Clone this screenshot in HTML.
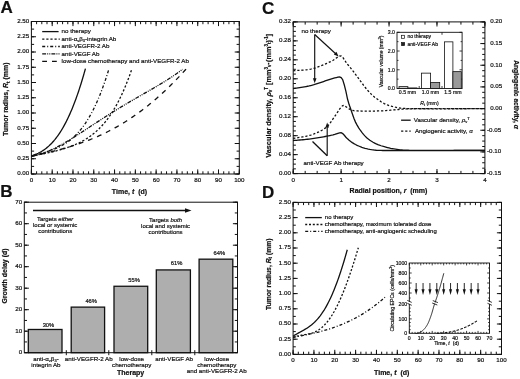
<!DOCTYPE html>
<html><head><meta charset="utf-8"><style>
html,body{margin:0;padding:0;background:#fff;}
svg{display:block;will-change:transform;filter:blur(0.2px);}
text{font-family:"Liberation Sans",sans-serif;fill:#111;stroke:#111;stroke-width:0.2px;}
</style></head><body>
<svg width="520" height="379" viewBox="0 0 520 379" stroke="#111" stroke-linecap="butt">
<g stroke="#111">
<text x="0.40" y="13.40" font-size="17" text-anchor="start" font-weight="bold">A</text>
<rect x="31.40" y="21.50" width="207.90" height="152.50" fill="none" stroke-width="1"/>
<line x1="31.40" y1="174.00" x2="31.40" y2="171.30" stroke-width="1"/>
<line x1="31.40" y1="21.50" x2="31.40" y2="24.20" stroke-width="1"/>
<line x1="36.60" y1="174.00" x2="36.60" y2="171.30" stroke-width="1"/>
<line x1="36.60" y1="21.50" x2="36.60" y2="24.20" stroke-width="1"/>
<line x1="41.80" y1="174.00" x2="41.80" y2="171.30" stroke-width="1"/>
<line x1="41.80" y1="21.50" x2="41.80" y2="24.20" stroke-width="1"/>
<line x1="46.99" y1="174.00" x2="46.99" y2="171.30" stroke-width="1"/>
<line x1="46.99" y1="21.50" x2="46.99" y2="24.20" stroke-width="1"/>
<line x1="52.19" y1="174.00" x2="52.19" y2="171.30" stroke-width="1"/>
<line x1="52.19" y1="21.50" x2="52.19" y2="24.20" stroke-width="1"/>
<line x1="57.39" y1="174.00" x2="57.39" y2="171.30" stroke-width="1"/>
<line x1="57.39" y1="21.50" x2="57.39" y2="24.20" stroke-width="1"/>
<line x1="62.58" y1="174.00" x2="62.58" y2="171.30" stroke-width="1"/>
<line x1="62.58" y1="21.50" x2="62.58" y2="24.20" stroke-width="1"/>
<line x1="67.78" y1="174.00" x2="67.78" y2="171.30" stroke-width="1"/>
<line x1="67.78" y1="21.50" x2="67.78" y2="24.20" stroke-width="1"/>
<line x1="72.98" y1="174.00" x2="72.98" y2="171.30" stroke-width="1"/>
<line x1="72.98" y1="21.50" x2="72.98" y2="24.20" stroke-width="1"/>
<line x1="78.18" y1="174.00" x2="78.18" y2="171.30" stroke-width="1"/>
<line x1="78.18" y1="21.50" x2="78.18" y2="24.20" stroke-width="1"/>
<line x1="83.38" y1="174.00" x2="83.38" y2="171.30" stroke-width="1"/>
<line x1="83.38" y1="21.50" x2="83.38" y2="24.20" stroke-width="1"/>
<line x1="88.57" y1="174.00" x2="88.57" y2="171.30" stroke-width="1"/>
<line x1="88.57" y1="21.50" x2="88.57" y2="24.20" stroke-width="1"/>
<line x1="93.77" y1="174.00" x2="93.77" y2="171.30" stroke-width="1"/>
<line x1="93.77" y1="21.50" x2="93.77" y2="24.20" stroke-width="1"/>
<line x1="98.97" y1="174.00" x2="98.97" y2="171.30" stroke-width="1"/>
<line x1="98.97" y1="21.50" x2="98.97" y2="24.20" stroke-width="1"/>
<line x1="104.16" y1="174.00" x2="104.16" y2="171.30" stroke-width="1"/>
<line x1="104.16" y1="21.50" x2="104.16" y2="24.20" stroke-width="1"/>
<line x1="109.36" y1="174.00" x2="109.36" y2="171.30" stroke-width="1"/>
<line x1="109.36" y1="21.50" x2="109.36" y2="24.20" stroke-width="1"/>
<line x1="114.56" y1="174.00" x2="114.56" y2="171.30" stroke-width="1"/>
<line x1="114.56" y1="21.50" x2="114.56" y2="24.20" stroke-width="1"/>
<line x1="119.76" y1="174.00" x2="119.76" y2="171.30" stroke-width="1"/>
<line x1="119.76" y1="21.50" x2="119.76" y2="24.20" stroke-width="1"/>
<line x1="124.96" y1="174.00" x2="124.96" y2="171.30" stroke-width="1"/>
<line x1="124.96" y1="21.50" x2="124.96" y2="24.20" stroke-width="1"/>
<line x1="130.15" y1="174.00" x2="130.15" y2="171.30" stroke-width="1"/>
<line x1="130.15" y1="21.50" x2="130.15" y2="24.20" stroke-width="1"/>
<line x1="135.35" y1="174.00" x2="135.35" y2="171.30" stroke-width="1"/>
<line x1="135.35" y1="21.50" x2="135.35" y2="24.20" stroke-width="1"/>
<line x1="140.55" y1="174.00" x2="140.55" y2="171.30" stroke-width="1"/>
<line x1="140.55" y1="21.50" x2="140.55" y2="24.20" stroke-width="1"/>
<line x1="145.75" y1="174.00" x2="145.75" y2="171.30" stroke-width="1"/>
<line x1="145.75" y1="21.50" x2="145.75" y2="24.20" stroke-width="1"/>
<line x1="150.94" y1="174.00" x2="150.94" y2="171.30" stroke-width="1"/>
<line x1="150.94" y1="21.50" x2="150.94" y2="24.20" stroke-width="1"/>
<line x1="156.14" y1="174.00" x2="156.14" y2="171.30" stroke-width="1"/>
<line x1="156.14" y1="21.50" x2="156.14" y2="24.20" stroke-width="1"/>
<line x1="161.34" y1="174.00" x2="161.34" y2="171.30" stroke-width="1"/>
<line x1="161.34" y1="21.50" x2="161.34" y2="24.20" stroke-width="1"/>
<line x1="166.54" y1="174.00" x2="166.54" y2="171.30" stroke-width="1"/>
<line x1="166.54" y1="21.50" x2="166.54" y2="24.20" stroke-width="1"/>
<line x1="171.73" y1="174.00" x2="171.73" y2="171.30" stroke-width="1"/>
<line x1="171.73" y1="21.50" x2="171.73" y2="24.20" stroke-width="1"/>
<line x1="176.93" y1="174.00" x2="176.93" y2="171.30" stroke-width="1"/>
<line x1="176.93" y1="21.50" x2="176.93" y2="24.20" stroke-width="1"/>
<line x1="182.13" y1="174.00" x2="182.13" y2="171.30" stroke-width="1"/>
<line x1="182.13" y1="21.50" x2="182.13" y2="24.20" stroke-width="1"/>
<line x1="187.33" y1="174.00" x2="187.33" y2="171.30" stroke-width="1"/>
<line x1="187.33" y1="21.50" x2="187.33" y2="24.20" stroke-width="1"/>
<line x1="192.52" y1="174.00" x2="192.52" y2="171.30" stroke-width="1"/>
<line x1="192.52" y1="21.50" x2="192.52" y2="24.20" stroke-width="1"/>
<line x1="197.72" y1="174.00" x2="197.72" y2="171.30" stroke-width="1"/>
<line x1="197.72" y1="21.50" x2="197.72" y2="24.20" stroke-width="1"/>
<line x1="202.92" y1="174.00" x2="202.92" y2="171.30" stroke-width="1"/>
<line x1="202.92" y1="21.50" x2="202.92" y2="24.20" stroke-width="1"/>
<line x1="208.12" y1="174.00" x2="208.12" y2="171.30" stroke-width="1"/>
<line x1="208.12" y1="21.50" x2="208.12" y2="24.20" stroke-width="1"/>
<line x1="213.31" y1="174.00" x2="213.31" y2="171.30" stroke-width="1"/>
<line x1="213.31" y1="21.50" x2="213.31" y2="24.20" stroke-width="1"/>
<line x1="218.51" y1="174.00" x2="218.51" y2="171.30" stroke-width="1"/>
<line x1="218.51" y1="21.50" x2="218.51" y2="24.20" stroke-width="1"/>
<line x1="223.71" y1="174.00" x2="223.71" y2="171.30" stroke-width="1"/>
<line x1="223.71" y1="21.50" x2="223.71" y2="24.20" stroke-width="1"/>
<line x1="228.91" y1="174.00" x2="228.91" y2="171.30" stroke-width="1"/>
<line x1="228.91" y1="21.50" x2="228.91" y2="24.20" stroke-width="1"/>
<line x1="234.10" y1="174.00" x2="234.10" y2="171.30" stroke-width="1"/>
<line x1="234.10" y1="21.50" x2="234.10" y2="24.20" stroke-width="1"/>
<line x1="239.30" y1="174.00" x2="239.30" y2="171.30" stroke-width="1"/>
<line x1="239.30" y1="21.50" x2="239.30" y2="24.20" stroke-width="1"/>
<line x1="31.40" y1="174.00" x2="31.40" y2="169.40" stroke-width="1"/>
<line x1="31.40" y1="21.50" x2="31.40" y2="26.10" stroke-width="1"/>
<line x1="52.19" y1="174.00" x2="52.19" y2="169.40" stroke-width="1"/>
<line x1="52.19" y1="21.50" x2="52.19" y2="26.10" stroke-width="1"/>
<line x1="72.98" y1="174.00" x2="72.98" y2="169.40" stroke-width="1"/>
<line x1="72.98" y1="21.50" x2="72.98" y2="26.10" stroke-width="1"/>
<line x1="93.77" y1="174.00" x2="93.77" y2="169.40" stroke-width="1"/>
<line x1="93.77" y1="21.50" x2="93.77" y2="26.10" stroke-width="1"/>
<line x1="114.56" y1="174.00" x2="114.56" y2="169.40" stroke-width="1"/>
<line x1="114.56" y1="21.50" x2="114.56" y2="26.10" stroke-width="1"/>
<line x1="135.35" y1="174.00" x2="135.35" y2="169.40" stroke-width="1"/>
<line x1="135.35" y1="21.50" x2="135.35" y2="26.10" stroke-width="1"/>
<line x1="156.14" y1="174.00" x2="156.14" y2="169.40" stroke-width="1"/>
<line x1="156.14" y1="21.50" x2="156.14" y2="26.10" stroke-width="1"/>
<line x1="176.93" y1="174.00" x2="176.93" y2="169.40" stroke-width="1"/>
<line x1="176.93" y1="21.50" x2="176.93" y2="26.10" stroke-width="1"/>
<line x1="197.72" y1="174.00" x2="197.72" y2="169.40" stroke-width="1"/>
<line x1="197.72" y1="21.50" x2="197.72" y2="26.10" stroke-width="1"/>
<line x1="218.51" y1="174.00" x2="218.51" y2="169.40" stroke-width="1"/>
<line x1="218.51" y1="21.50" x2="218.51" y2="26.10" stroke-width="1"/>
<line x1="239.30" y1="174.00" x2="239.30" y2="169.40" stroke-width="1"/>
<line x1="239.30" y1="21.50" x2="239.30" y2="26.10" stroke-width="1"/>
<line x1="31.40" y1="174.00" x2="34.10" y2="174.00" stroke-width="1"/>
<line x1="239.30" y1="174.00" x2="236.60" y2="174.00" stroke-width="1"/>
<line x1="31.40" y1="166.38" x2="34.10" y2="166.38" stroke-width="1"/>
<line x1="239.30" y1="166.38" x2="236.60" y2="166.38" stroke-width="1"/>
<line x1="31.40" y1="158.75" x2="34.10" y2="158.75" stroke-width="1"/>
<line x1="239.30" y1="158.75" x2="236.60" y2="158.75" stroke-width="1"/>
<line x1="31.40" y1="151.12" x2="34.10" y2="151.12" stroke-width="1"/>
<line x1="239.30" y1="151.12" x2="236.60" y2="151.12" stroke-width="1"/>
<line x1="31.40" y1="143.50" x2="34.10" y2="143.50" stroke-width="1"/>
<line x1="239.30" y1="143.50" x2="236.60" y2="143.50" stroke-width="1"/>
<line x1="31.40" y1="135.88" x2="34.10" y2="135.88" stroke-width="1"/>
<line x1="239.30" y1="135.88" x2="236.60" y2="135.88" stroke-width="1"/>
<line x1="31.40" y1="128.25" x2="34.10" y2="128.25" stroke-width="1"/>
<line x1="239.30" y1="128.25" x2="236.60" y2="128.25" stroke-width="1"/>
<line x1="31.40" y1="120.62" x2="34.10" y2="120.62" stroke-width="1"/>
<line x1="239.30" y1="120.62" x2="236.60" y2="120.62" stroke-width="1"/>
<line x1="31.40" y1="113.00" x2="34.10" y2="113.00" stroke-width="1"/>
<line x1="239.30" y1="113.00" x2="236.60" y2="113.00" stroke-width="1"/>
<line x1="31.40" y1="105.38" x2="34.10" y2="105.38" stroke-width="1"/>
<line x1="239.30" y1="105.38" x2="236.60" y2="105.38" stroke-width="1"/>
<line x1="31.40" y1="97.75" x2="34.10" y2="97.75" stroke-width="1"/>
<line x1="239.30" y1="97.75" x2="236.60" y2="97.75" stroke-width="1"/>
<line x1="31.40" y1="90.12" x2="34.10" y2="90.12" stroke-width="1"/>
<line x1="239.30" y1="90.12" x2="236.60" y2="90.12" stroke-width="1"/>
<line x1="31.40" y1="82.50" x2="34.10" y2="82.50" stroke-width="1"/>
<line x1="239.30" y1="82.50" x2="236.60" y2="82.50" stroke-width="1"/>
<line x1="31.40" y1="74.88" x2="34.10" y2="74.88" stroke-width="1"/>
<line x1="239.30" y1="74.88" x2="236.60" y2="74.88" stroke-width="1"/>
<line x1="31.40" y1="67.25" x2="34.10" y2="67.25" stroke-width="1"/>
<line x1="239.30" y1="67.25" x2="236.60" y2="67.25" stroke-width="1"/>
<line x1="31.40" y1="59.62" x2="34.10" y2="59.62" stroke-width="1"/>
<line x1="239.30" y1="59.62" x2="236.60" y2="59.62" stroke-width="1"/>
<line x1="31.40" y1="52.00" x2="34.10" y2="52.00" stroke-width="1"/>
<line x1="239.30" y1="52.00" x2="236.60" y2="52.00" stroke-width="1"/>
<line x1="31.40" y1="44.38" x2="34.10" y2="44.38" stroke-width="1"/>
<line x1="239.30" y1="44.38" x2="236.60" y2="44.38" stroke-width="1"/>
<line x1="31.40" y1="36.75" x2="34.10" y2="36.75" stroke-width="1"/>
<line x1="239.30" y1="36.75" x2="236.60" y2="36.75" stroke-width="1"/>
<line x1="31.40" y1="29.12" x2="34.10" y2="29.12" stroke-width="1"/>
<line x1="239.30" y1="29.12" x2="236.60" y2="29.12" stroke-width="1"/>
<line x1="31.40" y1="21.50" x2="34.10" y2="21.50" stroke-width="1"/>
<line x1="239.30" y1="21.50" x2="236.60" y2="21.50" stroke-width="1"/>
<line x1="31.40" y1="174.00" x2="36.00" y2="174.00" stroke-width="1"/>
<line x1="239.30" y1="174.00" x2="234.70" y2="174.00" stroke-width="1"/>
<line x1="31.40" y1="158.75" x2="36.00" y2="158.75" stroke-width="1"/>
<line x1="239.30" y1="158.75" x2="234.70" y2="158.75" stroke-width="1"/>
<line x1="31.40" y1="143.50" x2="36.00" y2="143.50" stroke-width="1"/>
<line x1="239.30" y1="143.50" x2="234.70" y2="143.50" stroke-width="1"/>
<line x1="31.40" y1="128.25" x2="36.00" y2="128.25" stroke-width="1"/>
<line x1="239.30" y1="128.25" x2="234.70" y2="128.25" stroke-width="1"/>
<line x1="31.40" y1="113.00" x2="36.00" y2="113.00" stroke-width="1"/>
<line x1="239.30" y1="113.00" x2="234.70" y2="113.00" stroke-width="1"/>
<line x1="31.40" y1="97.75" x2="36.00" y2="97.75" stroke-width="1"/>
<line x1="239.30" y1="97.75" x2="234.70" y2="97.75" stroke-width="1"/>
<line x1="31.40" y1="82.50" x2="36.00" y2="82.50" stroke-width="1"/>
<line x1="239.30" y1="82.50" x2="234.70" y2="82.50" stroke-width="1"/>
<line x1="31.40" y1="67.25" x2="36.00" y2="67.25" stroke-width="1"/>
<line x1="239.30" y1="67.25" x2="234.70" y2="67.25" stroke-width="1"/>
<line x1="31.40" y1="52.00" x2="36.00" y2="52.00" stroke-width="1"/>
<line x1="239.30" y1="52.00" x2="234.70" y2="52.00" stroke-width="1"/>
<line x1="31.40" y1="36.75" x2="36.00" y2="36.75" stroke-width="1"/>
<line x1="239.30" y1="36.75" x2="234.70" y2="36.75" stroke-width="1"/>
<line x1="31.40" y1="21.50" x2="36.00" y2="21.50" stroke-width="1"/>
<line x1="239.30" y1="21.50" x2="234.70" y2="21.50" stroke-width="1"/>
<text x="31.40" y="182.00" font-size="6.2" text-anchor="middle">0</text>
<text x="52.19" y="182.00" font-size="6.2" text-anchor="middle">10</text>
<text x="72.98" y="182.00" font-size="6.2" text-anchor="middle">20</text>
<text x="93.77" y="182.00" font-size="6.2" text-anchor="middle">30</text>
<text x="114.56" y="182.00" font-size="6.2" text-anchor="middle">40</text>
<text x="135.35" y="182.00" font-size="6.2" text-anchor="middle">50</text>
<text x="156.14" y="182.00" font-size="6.2" text-anchor="middle">60</text>
<text x="176.93" y="182.00" font-size="6.2" text-anchor="middle">70</text>
<text x="197.72" y="182.00" font-size="6.2" text-anchor="middle">80</text>
<text x="218.51" y="182.00" font-size="6.2" text-anchor="middle">90</text>
<text x="239.30" y="182.00" font-size="6.2" text-anchor="middle">100</text>
<text x="29.20" y="175.40" font-size="6.2" text-anchor="end">0.00</text>
<text x="29.20" y="160.15" font-size="6.2" text-anchor="end">0.25</text>
<text x="29.20" y="144.90" font-size="6.2" text-anchor="end">0.50</text>
<text x="29.20" y="129.65" font-size="6.2" text-anchor="end">0.75</text>
<text x="29.20" y="114.40" font-size="6.2" text-anchor="end">1.00</text>
<text x="29.20" y="99.15" font-size="6.2" text-anchor="end">1.25</text>
<text x="29.20" y="83.90" font-size="6.2" text-anchor="end">1.50</text>
<text x="29.20" y="68.65" font-size="6.2" text-anchor="end">1.75</text>
<text x="29.20" y="53.40" font-size="6.2" text-anchor="end">2.00</text>
<text x="29.20" y="38.15" font-size="6.2" text-anchor="end">2.25</text>
<text x="29.20" y="22.90" font-size="6.2" text-anchor="end">2.50</text>
<text x="129.50" y="194.00" font-size="7" text-anchor="middle" font-weight="bold">Time, <tspan font-style="italic">t</tspan>&#160; (d)</text>
<text x="8.30" y="99.20" font-size="7" text-anchor="middle" font-weight="bold" transform="rotate(-90 8.3 99.2)">Tumor radius, <tspan font-style="italic">R</tspan><tspan font-size="4.5" dy="1.5">t</tspan><tspan dy="-1.5"> (mm)</tspan></text>
<path d="M42.20 31.60 L58.60 31.60" fill="none" stroke-width="1.3"/>
<text x="61.60" y="33.20" font-size="6.2" text-anchor="start">no therapy</text>
<path d="M42.20 39.05 L59.80 39.05" fill="none" stroke-width="1.3" stroke-dasharray="2.2 1.9"/>
<text x="61.60" y="40.65" font-size="6.2" text-anchor="start">anti-&#945;<tspan font-size="4" dy="1">v</tspan><tspan dy="-1">&#946;</tspan><tspan font-size="4" dy="1">3</tspan><tspan dy="-1">-integrin Ab</tspan></text>
<path d="M42.20 46.50 L59.80 46.50" fill="none" stroke-width="1.3" stroke-dasharray="3 2 1 2"/>
<text x="61.60" y="48.10" font-size="6.2" text-anchor="start">anti-VEGFR-2 Ab</text>
<path d="M42.20 53.95 L59.80 53.95" fill="none" stroke-width="1.3" stroke-dasharray="3.9 1.1 1.0 1.1 1.0 1.1"/>
<text x="61.60" y="55.55" font-size="6.2" text-anchor="start">anti-VEGF Ab</text>
<path d="M42.20 61.40 L59.80 61.40" fill="none" stroke-width="1.3" stroke-dasharray="4.8 5"/>
<text x="61.60" y="63.00" font-size="6.2" text-anchor="start">low-dose chemotherapy and anti-VEGFR-2 Ab</text>
<path d="M31.40 155.80 L32.08 155.60 L32.75 155.39 L33.43 155.16 L34.10 154.93 L34.78 154.68 L35.45 154.42 L36.13 154.15 L36.81 153.87 L37.48 153.56 L38.16 153.25 L38.83 152.92 L39.51 152.58 L40.18 152.21 L40.86 151.84 L41.54 151.44 L42.21 151.03 L42.89 150.60 L43.56 150.16 L44.24 149.69 L44.91 149.21 L45.59 148.70 L46.26 148.18 L46.94 147.63 L47.62 147.07 L48.29 146.48 L48.97 145.88 L49.64 145.25 L50.32 144.59 L50.99 143.92 L51.67 143.22 L52.35 142.50 L53.02 141.75 L53.70 140.98 L54.37 140.18 L55.05 139.36 L55.72 138.51 L56.40 137.63 L57.08 136.73 L57.75 135.80 L58.43 134.84 L59.10 133.86 L59.78 132.84 L60.45 131.80 L61.13 130.73 L61.81 129.62 L62.48 128.49 L63.16 127.32 L63.83 126.13 L64.51 124.90 L65.18 123.64 L65.86 122.34 L66.54 121.01 L67.21 119.65 L67.89 118.26 L68.56 116.83 L69.24 115.36 L69.91 113.86 L70.59 112.33 L71.26 110.76 L71.94 109.15 L72.62 107.50 L73.29 105.82 L73.97 104.09 L74.64 102.33 L75.32 100.53 L75.99 98.69 L76.67 96.82 L77.35 94.90 L78.02 92.94 L78.70 90.93 L79.37 88.89 L80.05 86.81 L80.72 84.68 L81.40 82.51 L82.08 80.29 L82.75 78.03 L83.43 75.73 L84.10 73.38 L84.78 70.99 L85.45 68.55" fill="none" stroke-width="1.3"/>
<path d="M31.40 156.23 L32.37 155.95 L33.33 155.67 L34.30 155.39 L35.27 155.12 L36.23 154.85 L37.20 154.57 L38.17 154.30 L39.13 154.03 L40.10 153.76 L41.07 153.48 L42.03 153.20 L43.00 152.92 L43.97 152.64 L44.93 152.34 L45.90 152.05 L46.87 151.75 L47.83 151.44 L48.80 151.12 L49.77 150.79 L50.73 150.45 L51.70 150.10 L52.67 149.75 L53.63 149.37 L54.60 148.99 L55.57 148.59 L56.54 148.17 L57.50 147.74 L58.47 147.29 L59.44 146.82 L60.40 146.33 L61.37 145.83 L62.34 145.30 L63.30 144.74 L64.27 144.17 L65.24 143.57 L66.20 142.94 L67.17 142.29 L68.14 141.60 L69.10 140.89 L70.07 140.15 L71.04 139.38 L72.00 138.57 L72.97 137.73 L73.94 136.85 L74.90 135.93 L75.87 134.98 L76.84 133.99 L77.80 132.96 L78.77 131.88 L79.74 130.76 L80.70 129.60 L81.67 128.39 L82.64 127.13 L83.60 125.83 L84.57 124.47 L85.54 123.06 L86.50 121.60 L87.47 120.08 L88.44 118.50 L89.40 116.87 L90.37 115.18 L91.34 113.43 L92.30 111.61 L93.27 109.73 L94.24 107.79 L95.20 105.77 L96.17 103.69 L97.14 101.54 L98.10 99.31 L99.07 97.01 L100.04 94.64 L101.00 92.18 L101.97 89.65 L102.94 87.04 L103.91 84.34 L104.87 81.56 L105.84 78.69 L106.81 75.74 L107.77 72.69 L108.74 69.55" fill="none" stroke-width="1.3" stroke-dasharray="3 2 1 2"/>
<path d="M31.40 155.85 L32.65 155.68 L33.91 155.51 L35.16 155.32 L36.41 155.12 L37.66 154.91 L38.92 154.69 L40.17 154.46 L41.42 154.23 L42.67 153.99 L43.93 153.74 L45.18 153.48 L46.43 153.21 L47.68 152.94 L48.94 152.66 L50.19 152.37 L51.44 152.07 L52.69 151.77 L53.95 151.46 L55.20 151.14 L56.45 150.82 L57.70 150.48 L58.96 150.14 L60.21 149.79 L61.46 149.42 L62.71 149.05 L63.97 148.66 L65.22 148.26 L66.47 147.85 L67.73 147.43 L68.98 146.99 L70.23 146.54 L71.48 146.07 L72.74 145.58 L73.99 145.07 L75.24 144.55 L76.49 144.00 L77.75 143.43 L79.00 142.84 L80.25 142.22 L81.50 141.57 L82.76 140.90 L84.01 140.20 L85.26 139.46 L86.51 138.69 L87.77 137.89 L89.02 137.05 L90.27 136.17 L91.52 135.26 L92.78 134.29 L94.03 133.29 L95.28 132.24 L96.54 131.13 L97.79 129.98 L99.04 128.78 L100.29 127.51 L101.55 126.19 L102.80 124.81 L104.05 123.37 L105.30 121.86 L106.56 120.28 L107.81 118.63 L109.06 116.91 L110.31 115.10 L111.57 113.22 L112.82 111.26 L114.07 109.21 L115.32 107.08 L116.58 104.85 L117.83 102.52 L119.08 100.10 L120.33 97.58 L121.59 94.95 L122.84 92.21 L124.09 89.36 L125.34 86.40 L126.60 83.32 L127.85 80.11 L129.10 76.78 L130.36 73.32 L131.61 69.72" fill="none" stroke-width="1.3" stroke-dasharray="2.2 1.9"/>
<path d="M31.40 156.18 L33.29 155.88 L35.18 155.50 L37.07 155.06 L38.96 154.55 L40.85 153.98 L42.74 153.35 L44.63 152.67 L46.51 151.93 L48.40 151.15 L50.29 150.32 L52.18 149.44 L54.07 148.53 L55.96 147.58 L57.85 146.60 L59.74 145.58 L61.63 144.53 L63.52 143.46 L65.41 142.37 L67.30 141.25 L69.19 140.11 L71.08 138.95 L72.96 137.78 L74.85 136.59 L76.74 135.39 L78.63 134.18 L80.52 132.96 L82.41 131.74 L84.30 130.51 L86.19 129.27 L88.08 128.04 L89.97 126.80 L91.86 125.56 L93.75 124.32 L95.64 123.09 L97.53 121.85 L99.41 120.63 L101.30 119.40 L103.19 118.18 L105.08 116.97 L106.97 115.77 L108.86 114.57 L110.75 113.38 L112.64 112.19 L114.53 111.02 L116.42 109.85 L118.31 108.69 L120.20 107.54 L122.09 106.40 L123.98 105.26 L125.86 104.14 L127.75 103.02 L129.64 101.91 L131.53 100.80 L133.42 99.70 L135.31 98.61 L137.20 97.51 L139.09 96.43 L140.98 95.34 L142.87 94.26 L144.76 93.18 L146.65 92.10 L148.54 91.01 L150.43 89.92 L152.31 88.83 L154.20 87.74 L156.09 86.63 L157.98 85.51 L159.87 84.39 L161.76 83.25 L163.65 82.10 L165.54 80.93 L167.43 79.74 L169.32 78.53 L171.21 77.30 L173.10 76.04 L174.99 74.75 L176.88 73.44 L178.76 72.09 L180.65 70.70 L182.54 69.28" fill="none" stroke-width="1.3" stroke-dasharray="3.9 1.1 1.0 1.1 1.0 1.1"/>
<path d="M31.40 156.21 L33.34 155.78 L35.28 155.36 L37.22 154.93 L39.17 154.49 L41.11 154.06 L43.05 153.62 L44.99 153.17 L46.93 152.72 L48.87 152.26 L50.81 151.79 L52.75 151.32 L54.70 150.83 L56.64 150.34 L58.58 149.83 L60.52 149.32 L62.46 148.79 L64.40 148.25 L66.34 147.69 L68.28 147.12 L70.23 146.54 L72.17 145.94 L74.11 145.33 L76.05 144.70 L77.99 144.06 L79.93 143.39 L81.87 142.71 L83.81 142.01 L85.76 141.29 L87.70 140.56 L89.64 139.80 L91.58 139.02 L93.52 138.22 L95.46 137.40 L97.40 136.55 L99.34 135.69 L101.29 134.80 L103.23 133.89 L105.17 132.95 L107.11 131.99 L109.05 131.01 L110.99 130.00 L112.93 128.96 L114.87 127.90 L116.82 126.82 L118.76 125.71 L120.70 124.57 L122.64 123.40 L124.58 122.21 L126.52 120.99 L128.46 119.74 L130.40 118.46 L132.35 117.15 L134.29 115.82 L136.23 114.46 L138.17 113.07 L140.11 111.64 L142.05 110.19 L143.99 108.71 L145.93 107.20 L147.88 105.66 L149.82 104.09 L151.76 102.49 L153.70 100.86 L155.64 99.20 L157.58 97.50 L159.52 95.78 L161.46 94.03 L163.41 92.24 L165.35 90.42 L167.29 88.58 L169.23 86.70 L171.17 84.79 L173.11 82.84 L175.05 80.87 L176.99 78.87 L178.94 76.83 L180.88 74.77 L182.82 72.67 L184.76 70.54 L186.70 68.38" fill="none" stroke-width="1.3" stroke-dasharray="4.8 5"/>
<text x="0.30" y="196.80" font-size="17" text-anchor="start" font-weight="bold">B</text>
<rect x="24.30" y="202.20" width="213.20" height="150.50" fill="none" stroke-width="1"/>
<line x1="24.30" y1="352.70" x2="27.00" y2="352.70" stroke-width="1"/>
<line x1="237.50" y1="352.70" x2="234.80" y2="352.70" stroke-width="1"/>
<line x1="24.30" y1="341.95" x2="27.00" y2="341.95" stroke-width="1"/>
<line x1="237.50" y1="341.95" x2="234.80" y2="341.95" stroke-width="1"/>
<line x1="24.30" y1="331.20" x2="27.00" y2="331.20" stroke-width="1"/>
<line x1="237.50" y1="331.20" x2="234.80" y2="331.20" stroke-width="1"/>
<line x1="24.30" y1="320.45" x2="27.00" y2="320.45" stroke-width="1"/>
<line x1="237.50" y1="320.45" x2="234.80" y2="320.45" stroke-width="1"/>
<line x1="24.30" y1="309.70" x2="27.00" y2="309.70" stroke-width="1"/>
<line x1="237.50" y1="309.70" x2="234.80" y2="309.70" stroke-width="1"/>
<line x1="24.30" y1="298.95" x2="27.00" y2="298.95" stroke-width="1"/>
<line x1="237.50" y1="298.95" x2="234.80" y2="298.95" stroke-width="1"/>
<line x1="24.30" y1="288.20" x2="27.00" y2="288.20" stroke-width="1"/>
<line x1="237.50" y1="288.20" x2="234.80" y2="288.20" stroke-width="1"/>
<line x1="24.30" y1="277.45" x2="27.00" y2="277.45" stroke-width="1"/>
<line x1="237.50" y1="277.45" x2="234.80" y2="277.45" stroke-width="1"/>
<line x1="24.30" y1="266.70" x2="27.00" y2="266.70" stroke-width="1"/>
<line x1="237.50" y1="266.70" x2="234.80" y2="266.70" stroke-width="1"/>
<line x1="24.30" y1="255.95" x2="27.00" y2="255.95" stroke-width="1"/>
<line x1="237.50" y1="255.95" x2="234.80" y2="255.95" stroke-width="1"/>
<line x1="24.30" y1="245.20" x2="27.00" y2="245.20" stroke-width="1"/>
<line x1="237.50" y1="245.20" x2="234.80" y2="245.20" stroke-width="1"/>
<line x1="24.30" y1="234.45" x2="27.00" y2="234.45" stroke-width="1"/>
<line x1="237.50" y1="234.45" x2="234.80" y2="234.45" stroke-width="1"/>
<line x1="24.30" y1="223.70" x2="27.00" y2="223.70" stroke-width="1"/>
<line x1="237.50" y1="223.70" x2="234.80" y2="223.70" stroke-width="1"/>
<line x1="24.30" y1="212.95" x2="27.00" y2="212.95" stroke-width="1"/>
<line x1="237.50" y1="212.95" x2="234.80" y2="212.95" stroke-width="1"/>
<line x1="24.30" y1="202.20" x2="27.00" y2="202.20" stroke-width="1"/>
<line x1="237.50" y1="202.20" x2="234.80" y2="202.20" stroke-width="1"/>
<line x1="24.30" y1="352.70" x2="28.90" y2="352.70" stroke-width="1"/>
<line x1="237.50" y1="352.70" x2="232.90" y2="352.70" stroke-width="1"/>
<line x1="24.30" y1="331.20" x2="28.90" y2="331.20" stroke-width="1"/>
<line x1="237.50" y1="331.20" x2="232.90" y2="331.20" stroke-width="1"/>
<line x1="24.30" y1="309.70" x2="28.90" y2="309.70" stroke-width="1"/>
<line x1="237.50" y1="309.70" x2="232.90" y2="309.70" stroke-width="1"/>
<line x1="24.30" y1="288.20" x2="28.90" y2="288.20" stroke-width="1"/>
<line x1="237.50" y1="288.20" x2="232.90" y2="288.20" stroke-width="1"/>
<line x1="24.30" y1="266.70" x2="28.90" y2="266.70" stroke-width="1"/>
<line x1="237.50" y1="266.70" x2="232.90" y2="266.70" stroke-width="1"/>
<line x1="24.30" y1="245.20" x2="28.90" y2="245.20" stroke-width="1"/>
<line x1="237.50" y1="245.20" x2="232.90" y2="245.20" stroke-width="1"/>
<line x1="24.30" y1="223.70" x2="28.90" y2="223.70" stroke-width="1"/>
<line x1="237.50" y1="223.70" x2="232.90" y2="223.70" stroke-width="1"/>
<line x1="24.30" y1="202.20" x2="28.90" y2="202.20" stroke-width="1"/>
<line x1="237.50" y1="202.20" x2="232.90" y2="202.20" stroke-width="1"/>
<text x="22.20" y="354.10" font-size="6.2" text-anchor="end">0</text>
<text x="22.20" y="332.60" font-size="6.2" text-anchor="end">10</text>
<text x="22.20" y="311.10" font-size="6.2" text-anchor="end">20</text>
<text x="22.20" y="289.60" font-size="6.2" text-anchor="end">30</text>
<text x="22.20" y="268.10" font-size="6.2" text-anchor="end">40</text>
<text x="22.20" y="246.60" font-size="6.2" text-anchor="end">50</text>
<text x="22.20" y="225.10" font-size="6.2" text-anchor="end">60</text>
<text x="22.20" y="203.60" font-size="6.2" text-anchor="end">70</text>
<text x="7.00" y="276.00" font-size="7" text-anchor="middle" font-weight="bold" transform="rotate(-90 7 276)">Growth delay (d)</text>
<rect x="28.30" y="329.48" width="33.70" height="23.22" fill="#aeaeae" stroke-width="1.3"/>
<text x="48.45" y="327.00" font-size="5.8" text-anchor="middle">30%</text>
<text x="45.95" y="360.70" font-size="6.2" text-anchor="middle">anti-&#945;<tspan font-size="4" dy="1">v</tspan><tspan dy="-1">&#946;</tspan><tspan font-size="4" dy="1">3</tspan><tspan dy="-1">-</tspan></text>
<text x="45.95" y="366.60" font-size="6.2" text-anchor="middle">integrin Ab</text>
<rect x="71.20" y="307.12" width="33.40" height="45.58" fill="#aeaeae" stroke-width="1.3"/>
<text x="91.20" y="302.70" font-size="5.8" text-anchor="middle">46%</text>
<text x="88.70" y="360.70" font-size="6.2" text-anchor="middle">anti-VEGFR-2 Ab</text>
<rect x="114.00" y="286.26" width="33.70" height="66.44" fill="#aeaeae" stroke-width="1.3"/>
<text x="134.15" y="282.40" font-size="5.8" text-anchor="middle">55%</text>
<text x="131.65" y="360.70" font-size="6.2" text-anchor="middle">low-dose</text>
<text x="131.65" y="366.60" font-size="6.2" text-anchor="middle">chemotherapy</text>
<rect x="156.30" y="269.92" width="34.10" height="82.78" fill="#aeaeae" stroke-width="1.3"/>
<text x="176.65" y="264.60" font-size="5.8" text-anchor="middle">61%</text>
<text x="174.15" y="360.70" font-size="6.2" text-anchor="middle">anti-VEGF Ab</text>
<rect x="199.10" y="259.17" width="33.70" height="93.53" fill="#aeaeae" stroke-width="1.3"/>
<text x="219.25" y="254.80" font-size="5.8" text-anchor="middle">64%</text>
<text x="216.75" y="360.70" font-size="6.2" text-anchor="middle">low-dose</text>
<text x="216.75" y="366.60" font-size="6.2" text-anchor="middle">chemotherapy</text>
<text x="216.75" y="372.50" font-size="6.2" text-anchor="middle">and anti-VEGFR-2 Ab</text>
<line x1="66.30" y1="350.20" x2="66.30" y2="355.20" stroke-width="1"/>
<line x1="108.80" y1="350.20" x2="108.80" y2="355.20" stroke-width="1"/>
<line x1="151.80" y1="350.20" x2="151.80" y2="355.20" stroke-width="1"/>
<line x1="194.80" y1="350.20" x2="194.80" y2="355.20" stroke-width="1"/>
<text x="130.60" y="374.60" font-size="7" text-anchor="middle" font-weight="bold">Therapy</text>
<line x1="33.00" y1="210.50" x2="186.00" y2="210.50" stroke-width="1.3"/>
<path d="M185 208.3 L191.5 210.5 L185 212.7 Z" stroke="none" fill="#111"/>
<text x="55.20" y="220.70" font-size="6" text-anchor="middle">Targets <tspan font-style="italic">either</tspan></text>
<text x="55.20" y="226.70" font-size="6" text-anchor="middle">local or systemic</text>
<text x="55.20" y="232.70" font-size="6" text-anchor="middle">contributions</text>
<text x="165.60" y="221.80" font-size="6" text-anchor="middle">Targets <tspan font-style="italic">both</tspan></text>
<text x="165.60" y="227.80" font-size="6" text-anchor="middle">local and systemic</text>
<text x="165.60" y="233.80" font-size="6" text-anchor="middle">contributions</text>
<text x="262.00" y="13.80" font-size="17" text-anchor="start" font-weight="bold">C</text>
<rect x="293.20" y="21.90" width="191.70" height="151.70" fill="none" stroke-width="1"/>
<line x1="293.20" y1="173.60" x2="293.20" y2="170.90" stroke-width="1"/>
<line x1="293.20" y1="21.90" x2="293.20" y2="24.60" stroke-width="1"/>
<line x1="305.18" y1="173.60" x2="305.18" y2="170.90" stroke-width="1"/>
<line x1="305.18" y1="21.90" x2="305.18" y2="24.60" stroke-width="1"/>
<line x1="317.16" y1="173.60" x2="317.16" y2="170.90" stroke-width="1"/>
<line x1="317.16" y1="21.90" x2="317.16" y2="24.60" stroke-width="1"/>
<line x1="329.14" y1="173.60" x2="329.14" y2="170.90" stroke-width="1"/>
<line x1="329.14" y1="21.90" x2="329.14" y2="24.60" stroke-width="1"/>
<line x1="341.12" y1="173.60" x2="341.12" y2="170.90" stroke-width="1"/>
<line x1="341.12" y1="21.90" x2="341.12" y2="24.60" stroke-width="1"/>
<line x1="353.11" y1="173.60" x2="353.11" y2="170.90" stroke-width="1"/>
<line x1="353.11" y1="21.90" x2="353.11" y2="24.60" stroke-width="1"/>
<line x1="365.09" y1="173.60" x2="365.09" y2="170.90" stroke-width="1"/>
<line x1="365.09" y1="21.90" x2="365.09" y2="24.60" stroke-width="1"/>
<line x1="377.07" y1="173.60" x2="377.07" y2="170.90" stroke-width="1"/>
<line x1="377.07" y1="21.90" x2="377.07" y2="24.60" stroke-width="1"/>
<line x1="389.05" y1="173.60" x2="389.05" y2="170.90" stroke-width="1"/>
<line x1="389.05" y1="21.90" x2="389.05" y2="24.60" stroke-width="1"/>
<line x1="401.03" y1="173.60" x2="401.03" y2="170.90" stroke-width="1"/>
<line x1="401.03" y1="21.90" x2="401.03" y2="24.60" stroke-width="1"/>
<line x1="413.01" y1="173.60" x2="413.01" y2="170.90" stroke-width="1"/>
<line x1="413.01" y1="21.90" x2="413.01" y2="24.60" stroke-width="1"/>
<line x1="424.99" y1="173.60" x2="424.99" y2="170.90" stroke-width="1"/>
<line x1="424.99" y1="21.90" x2="424.99" y2="24.60" stroke-width="1"/>
<line x1="436.97" y1="173.60" x2="436.97" y2="170.90" stroke-width="1"/>
<line x1="436.97" y1="21.90" x2="436.97" y2="24.60" stroke-width="1"/>
<line x1="448.96" y1="173.60" x2="448.96" y2="170.90" stroke-width="1"/>
<line x1="448.96" y1="21.90" x2="448.96" y2="24.60" stroke-width="1"/>
<line x1="460.94" y1="173.60" x2="460.94" y2="170.90" stroke-width="1"/>
<line x1="460.94" y1="21.90" x2="460.94" y2="24.60" stroke-width="1"/>
<line x1="472.92" y1="173.60" x2="472.92" y2="170.90" stroke-width="1"/>
<line x1="472.92" y1="21.90" x2="472.92" y2="24.60" stroke-width="1"/>
<line x1="484.90" y1="173.60" x2="484.90" y2="170.90" stroke-width="1"/>
<line x1="484.90" y1="21.90" x2="484.90" y2="24.60" stroke-width="1"/>
<line x1="293.20" y1="173.60" x2="293.20" y2="169.00" stroke-width="1"/>
<line x1="293.20" y1="21.90" x2="293.20" y2="26.50" stroke-width="1"/>
<line x1="341.12" y1="173.60" x2="341.12" y2="169.00" stroke-width="1"/>
<line x1="341.12" y1="21.90" x2="341.12" y2="26.50" stroke-width="1"/>
<line x1="389.05" y1="173.60" x2="389.05" y2="169.00" stroke-width="1"/>
<line x1="389.05" y1="21.90" x2="389.05" y2="26.50" stroke-width="1"/>
<line x1="436.97" y1="173.60" x2="436.97" y2="169.00" stroke-width="1"/>
<line x1="436.97" y1="21.90" x2="436.97" y2="26.50" stroke-width="1"/>
<line x1="484.90" y1="173.60" x2="484.90" y2="169.00" stroke-width="1"/>
<line x1="484.90" y1="21.90" x2="484.90" y2="26.50" stroke-width="1"/>
<line x1="293.20" y1="173.60" x2="295.90" y2="173.60" stroke-width="1"/>
<line x1="293.20" y1="168.86" x2="295.90" y2="168.86" stroke-width="1"/>
<line x1="293.20" y1="164.12" x2="295.90" y2="164.12" stroke-width="1"/>
<line x1="293.20" y1="159.38" x2="295.90" y2="159.38" stroke-width="1"/>
<line x1="293.20" y1="154.64" x2="295.90" y2="154.64" stroke-width="1"/>
<line x1="293.20" y1="149.90" x2="295.90" y2="149.90" stroke-width="1"/>
<line x1="293.20" y1="145.16" x2="295.90" y2="145.16" stroke-width="1"/>
<line x1="293.20" y1="140.42" x2="295.90" y2="140.42" stroke-width="1"/>
<line x1="293.20" y1="135.68" x2="295.90" y2="135.68" stroke-width="1"/>
<line x1="293.20" y1="130.93" x2="295.90" y2="130.93" stroke-width="1"/>
<line x1="293.20" y1="126.19" x2="295.90" y2="126.19" stroke-width="1"/>
<line x1="293.20" y1="121.45" x2="295.90" y2="121.45" stroke-width="1"/>
<line x1="293.20" y1="116.71" x2="295.90" y2="116.71" stroke-width="1"/>
<line x1="293.20" y1="111.97" x2="295.90" y2="111.97" stroke-width="1"/>
<line x1="293.20" y1="107.23" x2="295.90" y2="107.23" stroke-width="1"/>
<line x1="293.20" y1="102.49" x2="295.90" y2="102.49" stroke-width="1"/>
<line x1="293.20" y1="97.75" x2="295.90" y2="97.75" stroke-width="1"/>
<line x1="293.20" y1="93.01" x2="295.90" y2="93.01" stroke-width="1"/>
<line x1="293.20" y1="88.27" x2="295.90" y2="88.27" stroke-width="1"/>
<line x1="293.20" y1="83.53" x2="295.90" y2="83.53" stroke-width="1"/>
<line x1="293.20" y1="78.79" x2="295.90" y2="78.79" stroke-width="1"/>
<line x1="293.20" y1="74.05" x2="295.90" y2="74.05" stroke-width="1"/>
<line x1="293.20" y1="69.31" x2="295.90" y2="69.31" stroke-width="1"/>
<line x1="293.20" y1="64.57" x2="295.90" y2="64.57" stroke-width="1"/>
<line x1="293.20" y1="59.83" x2="295.90" y2="59.83" stroke-width="1"/>
<line x1="293.20" y1="55.08" x2="295.90" y2="55.08" stroke-width="1"/>
<line x1="293.20" y1="50.34" x2="295.90" y2="50.34" stroke-width="1"/>
<line x1="293.20" y1="45.60" x2="295.90" y2="45.60" stroke-width="1"/>
<line x1="293.20" y1="40.86" x2="295.90" y2="40.86" stroke-width="1"/>
<line x1="293.20" y1="36.12" x2="295.90" y2="36.12" stroke-width="1"/>
<line x1="293.20" y1="31.38" x2="295.90" y2="31.38" stroke-width="1"/>
<line x1="293.20" y1="26.64" x2="295.90" y2="26.64" stroke-width="1"/>
<line x1="293.20" y1="21.90" x2="295.90" y2="21.90" stroke-width="1"/>
<line x1="293.20" y1="173.60" x2="297.80" y2="173.60" stroke-width="1"/>
<line x1="293.20" y1="154.64" x2="297.80" y2="154.64" stroke-width="1"/>
<line x1="293.20" y1="135.68" x2="297.80" y2="135.68" stroke-width="1"/>
<line x1="293.20" y1="116.71" x2="297.80" y2="116.71" stroke-width="1"/>
<line x1="293.20" y1="97.75" x2="297.80" y2="97.75" stroke-width="1"/>
<line x1="293.20" y1="78.79" x2="297.80" y2="78.79" stroke-width="1"/>
<line x1="293.20" y1="59.83" x2="297.80" y2="59.83" stroke-width="1"/>
<line x1="293.20" y1="40.86" x2="297.80" y2="40.86" stroke-width="1"/>
<line x1="293.20" y1="21.90" x2="297.80" y2="21.90" stroke-width="1"/>
<line x1="484.90" y1="173.60" x2="482.20" y2="173.60" stroke-width="1"/>
<line x1="484.90" y1="168.18" x2="482.20" y2="168.18" stroke-width="1"/>
<line x1="484.90" y1="162.76" x2="482.20" y2="162.76" stroke-width="1"/>
<line x1="484.90" y1="157.35" x2="482.20" y2="157.35" stroke-width="1"/>
<line x1="484.90" y1="151.93" x2="482.20" y2="151.93" stroke-width="1"/>
<line x1="484.90" y1="146.51" x2="482.20" y2="146.51" stroke-width="1"/>
<line x1="484.90" y1="141.09" x2="482.20" y2="141.09" stroke-width="1"/>
<line x1="484.90" y1="135.67" x2="482.20" y2="135.67" stroke-width="1"/>
<line x1="484.90" y1="130.26" x2="482.20" y2="130.26" stroke-width="1"/>
<line x1="484.90" y1="124.84" x2="482.20" y2="124.84" stroke-width="1"/>
<line x1="484.90" y1="119.42" x2="482.20" y2="119.42" stroke-width="1"/>
<line x1="484.90" y1="114.00" x2="482.20" y2="114.00" stroke-width="1"/>
<line x1="484.90" y1="108.59" x2="482.20" y2="108.59" stroke-width="1"/>
<line x1="484.90" y1="103.17" x2="482.20" y2="103.17" stroke-width="1"/>
<line x1="484.90" y1="97.75" x2="482.20" y2="97.75" stroke-width="1"/>
<line x1="484.90" y1="92.33" x2="482.20" y2="92.33" stroke-width="1"/>
<line x1="484.90" y1="86.91" x2="482.20" y2="86.91" stroke-width="1"/>
<line x1="484.90" y1="81.50" x2="482.20" y2="81.50" stroke-width="1"/>
<line x1="484.90" y1="76.08" x2="482.20" y2="76.08" stroke-width="1"/>
<line x1="484.90" y1="70.66" x2="482.20" y2="70.66" stroke-width="1"/>
<line x1="484.90" y1="65.24" x2="482.20" y2="65.24" stroke-width="1"/>
<line x1="484.90" y1="59.82" x2="482.20" y2="59.82" stroke-width="1"/>
<line x1="484.90" y1="54.41" x2="482.20" y2="54.41" stroke-width="1"/>
<line x1="484.90" y1="48.99" x2="482.20" y2="48.99" stroke-width="1"/>
<line x1="484.90" y1="43.57" x2="482.20" y2="43.57" stroke-width="1"/>
<line x1="484.90" y1="38.15" x2="482.20" y2="38.15" stroke-width="1"/>
<line x1="484.90" y1="32.74" x2="482.20" y2="32.74" stroke-width="1"/>
<line x1="484.90" y1="27.32" x2="482.20" y2="27.32" stroke-width="1"/>
<line x1="484.90" y1="21.90" x2="482.20" y2="21.90" stroke-width="1"/>
<line x1="484.90" y1="173.60" x2="480.30" y2="173.60" stroke-width="1"/>
<line x1="484.90" y1="151.93" x2="480.30" y2="151.93" stroke-width="1"/>
<line x1="484.90" y1="130.26" x2="480.30" y2="130.26" stroke-width="1"/>
<line x1="484.90" y1="108.59" x2="480.30" y2="108.59" stroke-width="1"/>
<line x1="484.90" y1="86.91" x2="480.30" y2="86.91" stroke-width="1"/>
<line x1="484.90" y1="65.24" x2="480.30" y2="65.24" stroke-width="1"/>
<line x1="484.90" y1="43.57" x2="480.30" y2="43.57" stroke-width="1"/>
<line x1="484.90" y1="21.90" x2="480.30" y2="21.90" stroke-width="1"/>
<text x="293.20" y="181.50" font-size="6.2" text-anchor="middle">0</text>
<text x="341.12" y="181.50" font-size="6.2" text-anchor="middle">1</text>
<text x="389.05" y="181.50" font-size="6.2" text-anchor="middle">2</text>
<text x="436.97" y="181.50" font-size="6.2" text-anchor="middle">3</text>
<text x="484.90" y="181.50" font-size="6.2" text-anchor="middle">4</text>
<text x="291.00" y="175.00" font-size="6.2" text-anchor="end">0.00</text>
<text x="291.00" y="156.04" font-size="6.2" text-anchor="end">0.04</text>
<text x="291.00" y="137.08" font-size="6.2" text-anchor="end">0.08</text>
<text x="291.00" y="118.11" font-size="6.2" text-anchor="end">0.12</text>
<text x="291.00" y="99.15" font-size="6.2" text-anchor="end">0.16</text>
<text x="291.00" y="80.19" font-size="6.2" text-anchor="end">0.20</text>
<text x="291.00" y="61.23" font-size="6.2" text-anchor="end">0.24</text>
<text x="291.00" y="42.26" font-size="6.2" text-anchor="end">0.28</text>
<text x="291.00" y="23.30" font-size="6.2" text-anchor="end">0.32</text>
<text x="487.00" y="175.00" font-size="6.2" text-anchor="start">-0.15</text>
<text x="487.00" y="153.33" font-size="6.2" text-anchor="start">-0.10</text>
<text x="487.00" y="131.66" font-size="6.2" text-anchor="start">-0.05</text>
<text x="490.20" y="109.99" font-size="6.2" text-anchor="start">0.00</text>
<text x="490.20" y="88.31" font-size="6.2" text-anchor="start">0.05</text>
<text x="490.20" y="66.64" font-size="6.2" text-anchor="start">0.10</text>
<text x="490.20" y="44.97" font-size="6.2" text-anchor="start">0.15</text>
<text x="490.20" y="23.30" font-size="6.2" text-anchor="start">0.20</text>
<text x="388.50" y="193.30" font-size="7" text-anchor="middle" font-weight="bold">Radial position, <tspan font-style="italic">r</tspan>&#160; (mm)</text>
<text x="270.80" y="95.70" font-size="7.3" text-anchor="middle" font-weight="bold" transform="rotate(-90 270.8 95.7)">Vascular density, <tspan font-style="italic">&#961;</tspan><tspan font-size="4.5" dy="1.5">v</tspan><tspan font-size="4.5" dy="-4">T</tspan><tspan dy="2.5">  [mm</tspan><tspan font-size="4.5" dy="-2.5">3</tspan><tspan font-size="4.5" dy="3">v</tspan><tspan dy="-0.5">&#183;(mm</tspan><tspan font-size="4.5" dy="-2.5">3</tspan><tspan font-size="4.5" dy="3">t</tspan><tspan dy="-0.5">)</tspan><tspan font-size="4.5" dy="-2.5">-1</tspan><tspan dy="2.5">]</tspan></text>
<text x="513.60" y="94.50" font-size="6.7" text-anchor="middle" font-weight="bold" transform="rotate(90 513.6 94.5)">Angiogenic activity, <tspan font-style="italic">&#945;</tspan></text>
<path d="M293.20 88.70 L294.80 88.41 L296.39 88.14 L297.99 87.88 L299.59 87.63 L301.19 87.37 L302.78 87.11 L304.38 86.84 L305.98 86.55 L307.58 86.25 L309.18 85.92 L310.77 85.55 L312.37 85.16 L313.97 84.72 L315.56 84.24 L317.16 83.74 L318.76 83.21 L320.36 82.66 L321.95 82.09 L323.55 81.52 L325.15 80.95 L326.75 80.39 L328.34 79.84 L329.94 79.30 L331.54 78.79 L333.14 78.33 L334.74 77.92 L336.33 77.56 L337.93 77.20 L339.53 76.97 L341.12 77.58 L342.72 79.72 L344.32 84.98 L345.92 91.42 L347.51 99.04 L349.11 104.57 L350.71 109.01 L352.31 113.69 L353.90 118.26 L355.50 122.11 L357.10 125.10 L358.70 127.81 L360.29 130.25 L361.89 132.43 L363.49 134.39 L365.09 136.13 L366.68 137.67 L368.28 139.02 L369.88 140.22 L371.48 141.29 L373.07 142.25 L374.67 143.14 L376.27 143.93 L377.87 144.62 L379.46 145.22 L381.06 145.75 L382.66 146.23 L384.26 146.67 L385.85 147.10 L387.45 147.52 L389.05 147.91 L390.65 148.27 L392.25 148.59 L393.84 148.88 L395.44 149.14 L397.04 149.38 L398.63 149.59 L400.23 149.78 L401.83 149.92 L403.43 150.03 L405.02 150.11 L406.62 150.18 L408.22 150.24 L409.82 150.29 L411.41 150.34 L413.01 150.38 L414.61 150.39 L416.21 150.40 L417.80 150.40 L419.40 150.40 L421.00 150.40 L422.60 150.40 L424.19 150.40 L425.79 150.41 L427.39 150.41 L428.99 150.41 L430.59 150.41 L432.18 150.41 L433.78 150.41 L435.38 150.41 L436.98 150.41 L438.57 150.41 L440.17 150.41 L441.77 150.41 L443.37 150.41 L444.96 150.41 L446.56 150.41 L448.16 150.41 L449.75 150.41 L451.35 150.41 L452.95 150.41 L454.55 150.41 L456.14 150.41 L457.74 150.41 L459.34 150.41 L460.94 150.41 L462.53 150.41 L464.13 150.41 L465.73 150.41 L467.33 150.40 L468.92 150.40 L470.52 150.40 L472.12 150.40 L473.72 150.40 L475.31 150.40 L476.91 150.40 L478.51 150.40 L480.11 150.40 L481.70 150.40 L483.30 150.40 L484.90 150.40" fill="none" stroke-width="1.3"/>
<path d="M293.20 140.60 L294.80 140.45 L296.39 140.30 L297.99 140.16 L299.59 140.02 L301.19 139.88 L302.78 139.74 L304.38 139.59 L305.98 139.44 L307.58 139.27 L309.18 139.09 L310.77 138.89 L312.37 138.68 L313.97 138.44 L315.56 138.20 L317.16 137.94 L318.76 137.67 L320.36 137.40 L321.95 137.11 L323.55 136.81 L325.15 136.50 L326.75 136.19 L328.34 135.86 L329.94 135.53 L331.54 135.19 L333.14 134.79 L334.74 134.31 L336.33 133.79 L337.93 133.29 L339.53 132.84 L341.12 132.68 L342.72 133.57 L344.32 135.27 L345.92 137.21 L347.51 138.85 L349.11 140.30 L350.71 141.49 L352.31 142.60 L353.90 143.61 L355.50 144.50 L357.10 145.29 L358.70 146.03 L360.29 146.70 L361.89 147.31 L363.49 147.85 L365.09 148.32 L366.68 148.73 L368.28 149.09 L369.88 149.41 L371.48 149.68 L373.07 149.91 L374.67 150.11 L376.27 150.26 L377.87 150.37 L379.46 150.44 L381.06 150.47 L382.66 150.49 L384.26 150.50 L385.85 150.50 L387.45 150.51 L389.05 150.51 L390.65 150.52 L392.25 150.52 L393.84 150.53 L395.44 150.53 L397.04 150.53 L398.63 150.54 L400.23 150.54 L401.83 150.54 L403.43 150.54 L405.02 150.55 L406.62 150.55 L408.22 150.55 L409.82 150.55 L411.41 150.55 L413.01 150.55 L414.61 150.55 L416.21 150.55 L417.80 150.55 L419.40 150.55 L421.00 150.55 L422.60 150.55 L424.19 150.55 L425.79 150.55 L427.39 150.55 L428.99 150.55 L430.59 150.55 L432.18 150.55 L433.78 150.55 L435.38 150.54 L436.98 150.54 L438.57 150.54 L440.17 150.54 L441.77 150.54 L443.37 150.54 L444.96 150.53 L446.56 150.53 L448.16 150.53 L449.75 150.53 L451.35 150.53 L452.95 150.53 L454.55 150.52 L456.14 150.52 L457.74 150.52 L459.34 150.52 L460.94 150.52 L462.53 150.51 L464.13 150.51 L465.73 150.51 L467.33 150.51 L468.92 150.51 L470.52 150.51 L472.12 150.51 L473.72 150.50 L475.31 150.50 L476.91 150.50 L478.51 150.50 L480.11 150.50 L481.70 150.50 L483.30 150.50 L484.90 150.50" fill="none" stroke-width="1.3"/>
<path d="M293.20 70.80 L294.80 70.65 L296.39 70.53 L297.99 70.43 L299.59 70.33 L301.19 70.24 L302.78 70.14 L304.38 70.02 L305.98 69.86 L307.58 69.67 L309.18 69.43 L310.77 69.13 L312.37 68.76 L313.97 68.32 L315.56 67.84 L317.16 67.30 L318.76 66.73 L320.36 66.12 L321.95 65.47 L323.55 64.80 L325.15 64.10 L326.75 63.39 L328.34 62.66 L329.94 61.92 L331.54 61.18 L333.14 60.29 L334.74 59.20 L336.33 58.04 L337.93 56.95 L339.53 56.07 L341.12 56.03 L342.72 57.27 L344.32 59.64 L345.92 62.17 L347.51 64.27 L349.11 66.23 L350.71 68.14 L352.31 70.10 L353.90 72.17 L355.50 74.29 L357.10 76.44 L358.70 78.59 L360.29 80.77 L361.89 82.98 L363.49 85.16 L365.09 87.24 L366.68 89.19 L368.28 91.06 L369.88 92.80 L371.48 94.39 L373.07 95.81 L374.67 97.14 L376.27 98.38 L377.87 99.54 L379.46 100.64 L381.06 101.69 L382.66 102.67 L384.26 103.56 L385.85 104.34 L387.45 104.98 L389.05 105.52 L390.65 106.01 L392.25 106.46 L393.84 106.86 L395.44 107.22 L397.04 107.53 L398.63 107.80 L400.23 108.03 L401.83 108.22 L403.43 108.36 L405.02 108.47 L406.62 108.55 L408.22 108.61 L409.82 108.65 L411.41 108.67 L413.01 108.68 L414.61 108.70 L416.21 108.71 L417.80 108.72 L419.40 108.73 L421.00 108.74 L422.60 108.75 L424.19 108.76 L425.79 108.76 L427.39 108.77 L428.99 108.77 L430.59 108.78 L432.18 108.78 L433.78 108.78 L435.38 108.78 L436.98 108.79 L438.57 108.79 L440.17 108.78 L441.77 108.78 L443.37 108.78 L444.96 108.78 L446.56 108.78 L448.16 108.78 L449.75 108.77 L451.35 108.77 L452.95 108.77 L454.55 108.76 L456.14 108.76 L457.74 108.75 L459.34 108.75 L460.94 108.74 L462.53 108.74 L464.13 108.74 L465.73 108.73 L467.33 108.73 L468.92 108.72 L470.52 108.72 L472.12 108.72 L473.72 108.71 L475.31 108.71 L476.91 108.71 L478.51 108.70 L480.11 108.70 L481.70 108.70 L483.30 108.70 L484.90 108.70" fill="none" stroke-width="1.3" stroke-dasharray="2.2 1.9"/>
<path d="M293.20 138.50 L294.80 138.19 L296.39 137.91 L297.99 137.64 L299.59 137.39 L301.19 137.13 L302.78 136.87 L304.38 136.59 L305.98 136.27 L307.58 135.92 L309.18 135.52 L310.77 135.07 L312.37 134.54 L313.97 133.97 L315.56 133.35 L317.16 132.69 L318.76 131.95 L320.36 131.14 L321.95 130.24 L323.55 129.23 L325.15 128.11 L326.75 126.86 L328.34 125.28 L329.94 123.31 L331.54 121.07 L333.14 118.72 L334.74 116.39 L336.33 114.11 L337.93 111.64 L339.53 109.20 L341.12 107.05 L342.72 105.57 L344.32 105.47 L345.92 106.67 L347.51 107.81 L349.11 108.83 L350.71 109.76 L352.31 110.40 L353.90 110.73 L355.50 110.91 L357.10 110.97 L358.70 110.99 L360.29 111.01 L361.89 111.03 L363.49 111.05 L365.09 111.07 L366.68 111.08 L368.28 111.08 L369.88 111.08 L371.48 111.07 L373.07 111.06 L374.67 111.03 L376.27 111.00 L377.87 110.97 L379.46 110.92 L381.06 110.86 L382.66 110.78 L384.26 110.68 L385.85 110.56 L387.45 110.43 L389.05 110.30 L390.65 110.16 L392.25 110.02 L393.84 109.89 L395.44 109.77 L397.04 109.63 L398.63 109.48 L400.23 109.34 L401.83 109.20 L403.43 109.09 L405.02 109.00 L406.62 108.93 L408.22 108.88 L409.82 108.83 L411.41 108.80 L413.01 108.77 L414.61 108.74 L416.21 108.72 L417.80 108.71 L419.40 108.70 L421.00 108.70 L422.60 108.69 L424.19 108.69 L425.79 108.68 L427.39 108.68 L428.99 108.67 L430.59 108.67 L432.18 108.67 L433.78 108.67 L435.38 108.67 L436.98 108.67 L438.57 108.66 L440.17 108.66 L441.77 108.66 L443.37 108.66 L444.96 108.66 L446.56 108.67 L448.16 108.67 L449.75 108.67 L451.35 108.67 L452.95 108.67 L454.55 108.67 L456.14 108.67 L457.74 108.68 L459.34 108.68 L460.94 108.68 L462.53 108.68 L464.13 108.68 L465.73 108.69 L467.33 108.69 L468.92 108.69 L470.52 108.69 L472.12 108.69 L473.72 108.69 L475.31 108.70 L476.91 108.70 L478.51 108.70 L480.11 108.70 L481.70 108.70 L483.30 108.70 L484.90 108.70" fill="none" stroke-width="1.3" stroke-dasharray="2.2 1.9"/>
<text x="301.50" y="33.30" font-size="6.2" text-anchor="start">no therapy</text>
<line x1="314.70" y1="34.50" x2="314.70" y2="80.50" stroke-width="1.15"/>
<path d="M312.9 78.2 L314.7 83.2 L316.5 78.2 Z" stroke="none" fill="#111"/>
<line x1="314.70" y1="34.50" x2="336.50" y2="54.50" stroke-width="1.15"/>
<path d="M333.8 54.6 L338.6 56.6 L336.4 51.8 Z" stroke="none" fill="#111"/>
<text x="303.50" y="164.60" font-size="6.2" text-anchor="start">anti-VEGF Ab therapy</text>
<line x1="327.20" y1="155.80" x2="327.20" y2="125.50" stroke-width="1.15"/>
<path d="M325.4 127.6 L327.2 122.6 L329 127.6 Z" stroke="none" fill="#111"/>
<line x1="327.20" y1="155.80" x2="312.50" y2="141.50" stroke-width="1.3"/>
<path d="M401.10 120.20 L410.70 120.20" fill="none" stroke-width="1.3"/>
<text x="413.80" y="122.30" font-size="6.2" text-anchor="start">Vascular density, <tspan font-style="italic">&#961;</tspan><tspan font-size="4" dy="1">v</tspan><tspan font-size="4" dy="-3.5">T</tspan></text>
<path d="M401.10 131.20 L410.70 131.20" fill="none" stroke-width="1.3" stroke-dasharray="2.2 1.9"/>
<text x="414.90" y="133.30" font-size="6.2" text-anchor="start">Angiogenic activity, <tspan font-style="italic">&#945;</tspan></text>
<rect x="397.00" y="32.30" width="65.10" height="56.20" fill="none" stroke-width="0.9"/>
<line x1="397.00" y1="88.50" x2="399.60" y2="88.50" stroke-width="0.8"/>
<line x1="462.10" y1="88.50" x2="459.50" y2="88.50" stroke-width="0.8"/>
<line x1="397.00" y1="79.13" x2="398.50" y2="79.13" stroke-width="0.8"/>
<line x1="462.10" y1="79.13" x2="460.60" y2="79.13" stroke-width="0.8"/>
<line x1="397.00" y1="69.77" x2="399.60" y2="69.77" stroke-width="0.8"/>
<line x1="462.10" y1="69.77" x2="459.50" y2="69.77" stroke-width="0.8"/>
<line x1="397.00" y1="60.40" x2="398.50" y2="60.40" stroke-width="0.8"/>
<line x1="462.10" y1="60.40" x2="460.60" y2="60.40" stroke-width="0.8"/>
<line x1="397.00" y1="51.03" x2="399.60" y2="51.03" stroke-width="0.8"/>
<line x1="462.10" y1="51.03" x2="459.50" y2="51.03" stroke-width="0.8"/>
<line x1="397.00" y1="41.67" x2="398.50" y2="41.67" stroke-width="0.8"/>
<line x1="462.10" y1="41.67" x2="460.60" y2="41.67" stroke-width="0.8"/>
<line x1="397.00" y1="32.30" x2="399.60" y2="32.30" stroke-width="0.8"/>
<line x1="462.10" y1="32.30" x2="459.50" y2="32.30" stroke-width="0.8"/>
<text x="395.00" y="90.30" font-size="5.2" text-anchor="end">0.0</text>
<text x="395.00" y="71.57" font-size="5.2" text-anchor="end">1.0</text>
<text x="395.00" y="52.83" font-size="5.2" text-anchor="end">2.0</text>
<text x="395.00" y="34.10" font-size="5.2" text-anchor="end">3.0</text>
<line x1="419.20" y1="88.50" x2="419.20" y2="86.00" stroke-width="0.8"/>
<line x1="419.20" y1="32.30" x2="419.20" y2="34.80" stroke-width="0.8"/>
<line x1="442.00" y1="88.50" x2="442.00" y2="86.00" stroke-width="0.8"/>
<line x1="442.00" y1="32.30" x2="442.00" y2="34.80" stroke-width="0.8"/>
<rect x="399.00" y="86.63" width="8.90" height="1.87" fill="#ccc" stroke-width="0.8"/>
<rect x="407.90" y="87.94" width="9.10" height="0.56" fill="#999" stroke-width="0.8"/>
<rect x="421.40" y="73.14" width="9.20" height="15.36" fill="#fff" stroke-width="0.8"/>
<rect x="430.60" y="82.51" width="9.10" height="5.99" fill="#999" stroke-width="0.8"/>
<rect x="444.40" y="41.85" width="8.50" height="46.65" fill="#fff" stroke-width="0.8"/>
<rect x="452.90" y="71.64" width="8.40" height="16.86" fill="#999" stroke-width="0.8"/>
<text x="407.50" y="94.40" font-size="5.2" text-anchor="middle">0.5 mm</text>
<text x="430.50" y="94.40" font-size="5.2" text-anchor="middle">1.0 mm</text>
<text x="452.90" y="94.40" font-size="5.2" text-anchor="middle">1.5 mm</text>
<text x="429.50" y="105.00" font-size="5.2" text-anchor="middle"><tspan font-style="italic">R</tspan><tspan font-size="3.6" dy="1">t</tspan><tspan dy="-1">  (mm)</tspan></text>
<text x="383.30" y="61.30" font-size="5" text-anchor="middle" transform="rotate(-90 383.3 61.3)">Vascular volume (mm<tspan font-size="3.6" dy="-2">3</tspan><tspan dy="2">)</tspan></text>
<rect x="401.6" y="35.3" width="3" height="3" fill="#fff" stroke-width="0.7"/>
<text x="407.40" y="38.40" font-size="5" text-anchor="start">no therapy</text>
<rect x="401.6" y="42.6" width="3" height="3" fill="#222" stroke-width="0.7"/>
<text x="407.40" y="45.70" font-size="5" text-anchor="start">anti-VEGF Ab</text>
<text x="262.00" y="198.30" font-size="17" text-anchor="start" font-weight="bold">D</text>
<rect x="293.10" y="202.40" width="208.40" height="152.00" fill="none" stroke-width="1"/>
<line x1="293.10" y1="354.40" x2="293.10" y2="351.70" stroke-width="1"/>
<line x1="293.10" y1="202.40" x2="293.10" y2="205.10" stroke-width="1"/>
<line x1="298.31" y1="354.40" x2="298.31" y2="351.70" stroke-width="1"/>
<line x1="298.31" y1="202.40" x2="298.31" y2="205.10" stroke-width="1"/>
<line x1="303.52" y1="354.40" x2="303.52" y2="351.70" stroke-width="1"/>
<line x1="303.52" y1="202.40" x2="303.52" y2="205.10" stroke-width="1"/>
<line x1="308.73" y1="354.40" x2="308.73" y2="351.70" stroke-width="1"/>
<line x1="308.73" y1="202.40" x2="308.73" y2="205.10" stroke-width="1"/>
<line x1="313.94" y1="354.40" x2="313.94" y2="351.70" stroke-width="1"/>
<line x1="313.94" y1="202.40" x2="313.94" y2="205.10" stroke-width="1"/>
<line x1="319.15" y1="354.40" x2="319.15" y2="351.70" stroke-width="1"/>
<line x1="319.15" y1="202.40" x2="319.15" y2="205.10" stroke-width="1"/>
<line x1="324.36" y1="354.40" x2="324.36" y2="351.70" stroke-width="1"/>
<line x1="324.36" y1="202.40" x2="324.36" y2="205.10" stroke-width="1"/>
<line x1="329.57" y1="354.40" x2="329.57" y2="351.70" stroke-width="1"/>
<line x1="329.57" y1="202.40" x2="329.57" y2="205.10" stroke-width="1"/>
<line x1="334.78" y1="354.40" x2="334.78" y2="351.70" stroke-width="1"/>
<line x1="334.78" y1="202.40" x2="334.78" y2="205.10" stroke-width="1"/>
<line x1="339.99" y1="354.40" x2="339.99" y2="351.70" stroke-width="1"/>
<line x1="339.99" y1="202.40" x2="339.99" y2="205.10" stroke-width="1"/>
<line x1="345.20" y1="354.40" x2="345.20" y2="351.70" stroke-width="1"/>
<line x1="345.20" y1="202.40" x2="345.20" y2="205.10" stroke-width="1"/>
<line x1="350.41" y1="354.40" x2="350.41" y2="351.70" stroke-width="1"/>
<line x1="350.41" y1="202.40" x2="350.41" y2="205.10" stroke-width="1"/>
<line x1="355.62" y1="354.40" x2="355.62" y2="351.70" stroke-width="1"/>
<line x1="355.62" y1="202.40" x2="355.62" y2="205.10" stroke-width="1"/>
<line x1="360.83" y1="354.40" x2="360.83" y2="351.70" stroke-width="1"/>
<line x1="360.83" y1="202.40" x2="360.83" y2="205.10" stroke-width="1"/>
<line x1="366.04" y1="354.40" x2="366.04" y2="351.70" stroke-width="1"/>
<line x1="366.04" y1="202.40" x2="366.04" y2="205.10" stroke-width="1"/>
<line x1="371.25" y1="354.40" x2="371.25" y2="351.70" stroke-width="1"/>
<line x1="371.25" y1="202.40" x2="371.25" y2="205.10" stroke-width="1"/>
<line x1="376.46" y1="354.40" x2="376.46" y2="351.70" stroke-width="1"/>
<line x1="376.46" y1="202.40" x2="376.46" y2="205.10" stroke-width="1"/>
<line x1="381.67" y1="354.40" x2="381.67" y2="351.70" stroke-width="1"/>
<line x1="381.67" y1="202.40" x2="381.67" y2="205.10" stroke-width="1"/>
<line x1="386.88" y1="354.40" x2="386.88" y2="351.70" stroke-width="1"/>
<line x1="386.88" y1="202.40" x2="386.88" y2="205.10" stroke-width="1"/>
<line x1="392.09" y1="354.40" x2="392.09" y2="351.70" stroke-width="1"/>
<line x1="392.09" y1="202.40" x2="392.09" y2="205.10" stroke-width="1"/>
<line x1="397.30" y1="354.40" x2="397.30" y2="351.70" stroke-width="1"/>
<line x1="397.30" y1="202.40" x2="397.30" y2="205.10" stroke-width="1"/>
<line x1="402.51" y1="354.40" x2="402.51" y2="351.70" stroke-width="1"/>
<line x1="402.51" y1="202.40" x2="402.51" y2="205.10" stroke-width="1"/>
<line x1="407.72" y1="354.40" x2="407.72" y2="351.70" stroke-width="1"/>
<line x1="407.72" y1="202.40" x2="407.72" y2="205.10" stroke-width="1"/>
<line x1="412.93" y1="354.40" x2="412.93" y2="351.70" stroke-width="1"/>
<line x1="412.93" y1="202.40" x2="412.93" y2="205.10" stroke-width="1"/>
<line x1="418.14" y1="354.40" x2="418.14" y2="351.70" stroke-width="1"/>
<line x1="418.14" y1="202.40" x2="418.14" y2="205.10" stroke-width="1"/>
<line x1="423.35" y1="354.40" x2="423.35" y2="351.70" stroke-width="1"/>
<line x1="423.35" y1="202.40" x2="423.35" y2="205.10" stroke-width="1"/>
<line x1="428.56" y1="354.40" x2="428.56" y2="351.70" stroke-width="1"/>
<line x1="428.56" y1="202.40" x2="428.56" y2="205.10" stroke-width="1"/>
<line x1="433.77" y1="354.40" x2="433.77" y2="351.70" stroke-width="1"/>
<line x1="433.77" y1="202.40" x2="433.77" y2="205.10" stroke-width="1"/>
<line x1="438.98" y1="354.40" x2="438.98" y2="351.70" stroke-width="1"/>
<line x1="438.98" y1="202.40" x2="438.98" y2="205.10" stroke-width="1"/>
<line x1="444.19" y1="354.40" x2="444.19" y2="351.70" stroke-width="1"/>
<line x1="444.19" y1="202.40" x2="444.19" y2="205.10" stroke-width="1"/>
<line x1="449.40" y1="354.40" x2="449.40" y2="351.70" stroke-width="1"/>
<line x1="449.40" y1="202.40" x2="449.40" y2="205.10" stroke-width="1"/>
<line x1="454.61" y1="354.40" x2="454.61" y2="351.70" stroke-width="1"/>
<line x1="454.61" y1="202.40" x2="454.61" y2="205.10" stroke-width="1"/>
<line x1="459.82" y1="354.40" x2="459.82" y2="351.70" stroke-width="1"/>
<line x1="459.82" y1="202.40" x2="459.82" y2="205.10" stroke-width="1"/>
<line x1="465.03" y1="354.40" x2="465.03" y2="351.70" stroke-width="1"/>
<line x1="465.03" y1="202.40" x2="465.03" y2="205.10" stroke-width="1"/>
<line x1="470.24" y1="354.40" x2="470.24" y2="351.70" stroke-width="1"/>
<line x1="470.24" y1="202.40" x2="470.24" y2="205.10" stroke-width="1"/>
<line x1="475.45" y1="354.40" x2="475.45" y2="351.70" stroke-width="1"/>
<line x1="475.45" y1="202.40" x2="475.45" y2="205.10" stroke-width="1"/>
<line x1="480.66" y1="354.40" x2="480.66" y2="351.70" stroke-width="1"/>
<line x1="480.66" y1="202.40" x2="480.66" y2="205.10" stroke-width="1"/>
<line x1="485.87" y1="354.40" x2="485.87" y2="351.70" stroke-width="1"/>
<line x1="485.87" y1="202.40" x2="485.87" y2="205.10" stroke-width="1"/>
<line x1="491.08" y1="354.40" x2="491.08" y2="351.70" stroke-width="1"/>
<line x1="491.08" y1="202.40" x2="491.08" y2="205.10" stroke-width="1"/>
<line x1="496.29" y1="354.40" x2="496.29" y2="351.70" stroke-width="1"/>
<line x1="496.29" y1="202.40" x2="496.29" y2="205.10" stroke-width="1"/>
<line x1="501.50" y1="354.40" x2="501.50" y2="351.70" stroke-width="1"/>
<line x1="501.50" y1="202.40" x2="501.50" y2="205.10" stroke-width="1"/>
<line x1="293.10" y1="354.40" x2="293.10" y2="349.80" stroke-width="1"/>
<line x1="293.10" y1="202.40" x2="293.10" y2="207.00" stroke-width="1"/>
<line x1="313.94" y1="354.40" x2="313.94" y2="349.80" stroke-width="1"/>
<line x1="313.94" y1="202.40" x2="313.94" y2="207.00" stroke-width="1"/>
<line x1="334.78" y1="354.40" x2="334.78" y2="349.80" stroke-width="1"/>
<line x1="334.78" y1="202.40" x2="334.78" y2="207.00" stroke-width="1"/>
<line x1="355.62" y1="354.40" x2="355.62" y2="349.80" stroke-width="1"/>
<line x1="355.62" y1="202.40" x2="355.62" y2="207.00" stroke-width="1"/>
<line x1="376.46" y1="354.40" x2="376.46" y2="349.80" stroke-width="1"/>
<line x1="376.46" y1="202.40" x2="376.46" y2="207.00" stroke-width="1"/>
<line x1="397.30" y1="354.40" x2="397.30" y2="349.80" stroke-width="1"/>
<line x1="397.30" y1="202.40" x2="397.30" y2="207.00" stroke-width="1"/>
<line x1="418.14" y1="354.40" x2="418.14" y2="349.80" stroke-width="1"/>
<line x1="418.14" y1="202.40" x2="418.14" y2="207.00" stroke-width="1"/>
<line x1="438.98" y1="354.40" x2="438.98" y2="349.80" stroke-width="1"/>
<line x1="438.98" y1="202.40" x2="438.98" y2="207.00" stroke-width="1"/>
<line x1="459.82" y1="354.40" x2="459.82" y2="349.80" stroke-width="1"/>
<line x1="459.82" y1="202.40" x2="459.82" y2="207.00" stroke-width="1"/>
<line x1="480.66" y1="354.40" x2="480.66" y2="349.80" stroke-width="1"/>
<line x1="480.66" y1="202.40" x2="480.66" y2="207.00" stroke-width="1"/>
<line x1="501.50" y1="354.40" x2="501.50" y2="349.80" stroke-width="1"/>
<line x1="501.50" y1="202.40" x2="501.50" y2="207.00" stroke-width="1"/>
<line x1="293.10" y1="354.40" x2="295.80" y2="354.40" stroke-width="1"/>
<line x1="501.50" y1="354.40" x2="498.80" y2="354.40" stroke-width="1"/>
<line x1="293.10" y1="346.80" x2="295.80" y2="346.80" stroke-width="1"/>
<line x1="501.50" y1="346.80" x2="498.80" y2="346.80" stroke-width="1"/>
<line x1="293.10" y1="339.20" x2="295.80" y2="339.20" stroke-width="1"/>
<line x1="501.50" y1="339.20" x2="498.80" y2="339.20" stroke-width="1"/>
<line x1="293.10" y1="331.60" x2="295.80" y2="331.60" stroke-width="1"/>
<line x1="501.50" y1="331.60" x2="498.80" y2="331.60" stroke-width="1"/>
<line x1="293.10" y1="324.00" x2="295.80" y2="324.00" stroke-width="1"/>
<line x1="501.50" y1="324.00" x2="498.80" y2="324.00" stroke-width="1"/>
<line x1="293.10" y1="316.40" x2="295.80" y2="316.40" stroke-width="1"/>
<line x1="501.50" y1="316.40" x2="498.80" y2="316.40" stroke-width="1"/>
<line x1="293.10" y1="308.80" x2="295.80" y2="308.80" stroke-width="1"/>
<line x1="501.50" y1="308.80" x2="498.80" y2="308.80" stroke-width="1"/>
<line x1="293.10" y1="301.20" x2="295.80" y2="301.20" stroke-width="1"/>
<line x1="501.50" y1="301.20" x2="498.80" y2="301.20" stroke-width="1"/>
<line x1="293.10" y1="293.60" x2="295.80" y2="293.60" stroke-width="1"/>
<line x1="501.50" y1="293.60" x2="498.80" y2="293.60" stroke-width="1"/>
<line x1="293.10" y1="286.00" x2="295.80" y2="286.00" stroke-width="1"/>
<line x1="501.50" y1="286.00" x2="498.80" y2="286.00" stroke-width="1"/>
<line x1="293.10" y1="278.40" x2="295.80" y2="278.40" stroke-width="1"/>
<line x1="501.50" y1="278.40" x2="498.80" y2="278.40" stroke-width="1"/>
<line x1="293.10" y1="270.80" x2="295.80" y2="270.80" stroke-width="1"/>
<line x1="501.50" y1="270.80" x2="498.80" y2="270.80" stroke-width="1"/>
<line x1="293.10" y1="263.20" x2="295.80" y2="263.20" stroke-width="1"/>
<line x1="501.50" y1="263.20" x2="498.80" y2="263.20" stroke-width="1"/>
<line x1="293.10" y1="255.60" x2="295.80" y2="255.60" stroke-width="1"/>
<line x1="501.50" y1="255.60" x2="498.80" y2="255.60" stroke-width="1"/>
<line x1="293.10" y1="248.00" x2="295.80" y2="248.00" stroke-width="1"/>
<line x1="501.50" y1="248.00" x2="498.80" y2="248.00" stroke-width="1"/>
<line x1="293.10" y1="240.40" x2="295.80" y2="240.40" stroke-width="1"/>
<line x1="501.50" y1="240.40" x2="498.80" y2="240.40" stroke-width="1"/>
<line x1="293.10" y1="232.80" x2="295.80" y2="232.80" stroke-width="1"/>
<line x1="501.50" y1="232.80" x2="498.80" y2="232.80" stroke-width="1"/>
<line x1="293.10" y1="225.20" x2="295.80" y2="225.20" stroke-width="1"/>
<line x1="501.50" y1="225.20" x2="498.80" y2="225.20" stroke-width="1"/>
<line x1="293.10" y1="217.60" x2="295.80" y2="217.60" stroke-width="1"/>
<line x1="501.50" y1="217.60" x2="498.80" y2="217.60" stroke-width="1"/>
<line x1="293.10" y1="210.00" x2="295.80" y2="210.00" stroke-width="1"/>
<line x1="501.50" y1="210.00" x2="498.80" y2="210.00" stroke-width="1"/>
<line x1="293.10" y1="202.40" x2="295.80" y2="202.40" stroke-width="1"/>
<line x1="501.50" y1="202.40" x2="498.80" y2="202.40" stroke-width="1"/>
<line x1="293.10" y1="354.40" x2="297.70" y2="354.40" stroke-width="1"/>
<line x1="501.50" y1="354.40" x2="496.90" y2="354.40" stroke-width="1"/>
<line x1="293.10" y1="339.20" x2="297.70" y2="339.20" stroke-width="1"/>
<line x1="501.50" y1="339.20" x2="496.90" y2="339.20" stroke-width="1"/>
<line x1="293.10" y1="324.00" x2="297.70" y2="324.00" stroke-width="1"/>
<line x1="501.50" y1="324.00" x2="496.90" y2="324.00" stroke-width="1"/>
<line x1="293.10" y1="308.80" x2="297.70" y2="308.80" stroke-width="1"/>
<line x1="501.50" y1="308.80" x2="496.90" y2="308.80" stroke-width="1"/>
<line x1="293.10" y1="293.60" x2="297.70" y2="293.60" stroke-width="1"/>
<line x1="501.50" y1="293.60" x2="496.90" y2="293.60" stroke-width="1"/>
<line x1="293.10" y1="278.40" x2="297.70" y2="278.40" stroke-width="1"/>
<line x1="501.50" y1="278.40" x2="496.90" y2="278.40" stroke-width="1"/>
<line x1="293.10" y1="263.20" x2="297.70" y2="263.20" stroke-width="1"/>
<line x1="501.50" y1="263.20" x2="496.90" y2="263.20" stroke-width="1"/>
<line x1="293.10" y1="248.00" x2="297.70" y2="248.00" stroke-width="1"/>
<line x1="501.50" y1="248.00" x2="496.90" y2="248.00" stroke-width="1"/>
<line x1="293.10" y1="232.80" x2="297.70" y2="232.80" stroke-width="1"/>
<line x1="501.50" y1="232.80" x2="496.90" y2="232.80" stroke-width="1"/>
<line x1="293.10" y1="217.60" x2="297.70" y2="217.60" stroke-width="1"/>
<line x1="501.50" y1="217.60" x2="496.90" y2="217.60" stroke-width="1"/>
<line x1="293.10" y1="202.40" x2="297.70" y2="202.40" stroke-width="1"/>
<line x1="501.50" y1="202.40" x2="496.90" y2="202.40" stroke-width="1"/>
<text x="293.10" y="362.40" font-size="6.2" text-anchor="middle">0</text>
<text x="313.94" y="362.40" font-size="6.2" text-anchor="middle">10</text>
<text x="334.78" y="362.40" font-size="6.2" text-anchor="middle">20</text>
<text x="355.62" y="362.40" font-size="6.2" text-anchor="middle">30</text>
<text x="376.46" y="362.40" font-size="6.2" text-anchor="middle">40</text>
<text x="397.30" y="362.40" font-size="6.2" text-anchor="middle">50</text>
<text x="418.14" y="362.40" font-size="6.2" text-anchor="middle">60</text>
<text x="438.98" y="362.40" font-size="6.2" text-anchor="middle">70</text>
<text x="459.82" y="362.40" font-size="6.2" text-anchor="middle">80</text>
<text x="480.66" y="362.40" font-size="6.2" text-anchor="middle">90</text>
<text x="501.50" y="362.40" font-size="6.2" text-anchor="middle">100</text>
<text x="290.90" y="355.80" font-size="6.2" text-anchor="end">0.00</text>
<text x="290.90" y="340.60" font-size="6.2" text-anchor="end">0.25</text>
<text x="290.90" y="325.40" font-size="6.2" text-anchor="end">0.50</text>
<text x="290.90" y="310.20" font-size="6.2" text-anchor="end">0.75</text>
<text x="290.90" y="295.00" font-size="6.2" text-anchor="end">1.00</text>
<text x="290.90" y="279.80" font-size="6.2" text-anchor="end">1.25</text>
<text x="290.90" y="264.60" font-size="6.2" text-anchor="end">1.50</text>
<text x="290.90" y="249.40" font-size="6.2" text-anchor="end">1.75</text>
<text x="290.90" y="234.20" font-size="6.2" text-anchor="end">2.00</text>
<text x="290.90" y="219.00" font-size="6.2" text-anchor="end">2.25</text>
<text x="290.90" y="203.80" font-size="6.2" text-anchor="end">2.50</text>
<text x="391.70" y="374.60" font-size="7" text-anchor="middle" font-weight="bold">Time, <tspan font-style="italic">t</tspan>&#160; (d)</text>
<text x="270.60" y="274.20" font-size="6.8" text-anchor="middle" font-weight="bold" transform="rotate(-90 270.6 274.2)">Tumor radius, <tspan font-style="italic">R</tspan><tspan font-size="4.5" dy="1.5">t</tspan><tspan dy="-1.5"> (mm)</tspan></text>
<path d="M305.20 217.60 L321.80 217.60" fill="none" stroke-width="1.3"/>
<text x="324.80" y="219.10" font-size="6" text-anchor="start">no therapy</text>
<path d="M305.20 224.50 L322.60 224.50" fill="none" stroke-width="1.3" stroke-dasharray="2 1.8"/>
<text x="324.80" y="226.00" font-size="6" text-anchor="start">chemotherapy, maximum tolerated dose</text>
<path d="M305.20 231.40 L322.60 231.40" fill="none" stroke-width="1.3" stroke-dasharray="3 2 1 2"/>
<text x="324.80" y="232.90" font-size="6" text-anchor="start">chemotherapy, anti-angiogenic scheduling</text>
<path d="M293.10 336.20 L293.78 335.74 L294.45 335.31 L295.13 334.88 L295.81 334.48 L296.49 334.08 L297.16 333.69 L297.84 333.31 L298.52 332.93 L299.20 332.56 L299.87 332.20 L300.55 331.83 L301.23 331.46 L301.90 331.10 L302.58 330.73 L303.26 330.35 L303.94 329.97 L304.61 329.58 L305.29 329.18 L305.97 328.78 L306.65 328.36 L307.32 327.92 L308.00 327.48 L308.68 327.02 L309.36 326.54 L310.03 326.05 L310.71 325.53 L311.39 325.00 L312.06 324.44 L312.74 323.87 L313.42 323.27 L314.10 322.64 L314.77 322.00 L315.45 321.32 L316.13 320.62 L316.81 319.89 L317.48 319.14 L318.16 318.35 L318.84 317.53 L319.51 316.68 L320.19 315.81 L320.87 314.89 L321.55 313.95 L322.22 312.97 L322.90 311.96 L323.58 310.91 L324.26 309.83 L324.93 308.71 L325.61 307.55 L326.29 306.36 L326.97 305.13 L327.64 303.86 L328.32 302.56 L329.00 301.21 L329.67 299.83 L330.35 298.41 L331.03 296.94 L331.71 295.44 L332.38 293.90 L333.06 292.31 L333.74 290.69 L334.42 289.03 L335.09 287.32 L335.77 285.58 L336.45 283.79 L337.12 281.97 L337.80 280.10 L338.48 278.19 L339.16 276.24 L339.83 274.25 L340.51 272.22 L341.19 270.15 L341.87 268.04 L342.54 265.89 L343.22 263.70 L343.90 261.47 L344.57 259.20 L345.25 256.89 L345.93 254.55 L346.61 252.16 L347.28 249.74" fill="none" stroke-width="1.3"/>
<path d="M293.10 337.40 L293.92 337.07 L294.73 336.77 L295.55 336.50 L296.36 336.26 L297.18 336.04 L297.99 335.85 L298.81 335.67 L299.62 335.51 L300.44 335.37 L301.25 335.23 L302.07 335.10 L302.88 334.98 L303.70 334.85 L304.52 334.72 L305.33 334.59 L306.15 334.46 L306.96 334.31 L307.78 334.15 L308.59 333.98 L309.41 333.79 L310.22 333.58 L311.04 333.35 L311.85 333.10 L312.67 332.82 L313.48 332.52 L314.30 332.19 L315.11 331.83 L315.93 331.43 L316.75 331.01 L317.56 330.54 L318.38 330.04 L319.19 329.51 L320.01 328.93 L320.82 328.31 L321.64 327.65 L322.45 326.94 L323.27 326.20 L324.08 325.40 L324.90 324.56 L325.71 323.67 L326.53 322.74 L327.35 321.75 L328.16 320.72 L328.98 319.63 L329.79 318.50 L330.61 317.31 L331.42 316.07 L332.24 314.78 L333.05 313.44 L333.87 312.05 L334.68 310.60 L335.50 309.10 L336.31 307.55 L337.13 305.94 L337.95 304.29 L338.76 302.58 L339.58 300.82 L340.39 299.01 L341.21 297.15 L342.02 295.23 L342.84 293.27 L343.65 291.26 L344.47 289.20 L345.28 287.09 L346.10 284.94 L346.91 282.74 L347.73 280.49 L348.54 278.20 L349.36 275.87 L350.18 273.50 L350.99 271.09 L351.81 268.64 L352.62 266.15 L353.44 263.62 L354.25 261.06 L355.07 258.47 L355.88 255.85 L356.70 253.19 L357.51 250.51 L358.33 247.81" fill="none" stroke-width="1.3" stroke-dasharray="2 1.8"/>
<path d="M293.10 337.36 L294.25 337.15 L295.40 336.95 L296.55 336.73 L297.70 336.52 L298.84 336.30 L299.99 336.09 L301.14 335.87 L302.29 335.64 L303.44 335.41 L304.59 335.18 L305.74 334.95 L306.89 334.71 L308.03 334.47 L309.18 334.22 L310.33 333.97 L311.48 333.71 L312.63 333.45 L313.78 333.19 L314.93 332.91 L316.08 332.64 L317.22 332.35 L318.37 332.06 L319.52 331.77 L320.67 331.46 L321.82 331.16 L322.97 330.84 L324.12 330.52 L325.27 330.18 L326.42 329.85 L327.56 329.50 L328.71 329.14 L329.86 328.78 L331.01 328.41 L332.16 328.03 L333.31 327.64 L334.46 327.24 L335.61 326.83 L336.75 326.42 L337.90 325.99 L339.05 325.55 L340.20 325.10 L341.35 324.64 L342.50 324.17 L343.65 323.69 L344.80 323.20 L345.95 322.70 L347.09 322.18 L348.24 321.65 L349.39 321.11 L350.54 320.56 L351.69 320.00 L352.84 319.42 L353.99 318.83 L355.14 318.23 L356.28 317.61 L357.43 316.98 L358.58 316.34 L359.73 315.68 L360.88 315.00 L362.03 314.32 L363.18 313.61 L364.33 312.90 L365.47 312.16 L366.62 311.41 L367.77 310.65 L368.92 309.87 L370.07 309.07 L371.22 308.26 L372.37 307.43 L373.52 306.58 L374.67 305.72 L375.81 304.84 L376.96 303.94 L378.11 303.03 L379.26 302.09 L380.41 301.14 L381.56 300.17 L382.71 299.18 L383.86 298.17 L385.00 297.15" fill="none" stroke-width="1.3" stroke-dasharray="3 2 1 2"/>
<rect x="409.30" y="263.00" width="80.20" height="70.30" fill="none" stroke-width="0.9"/>
<line x1="409.30" y1="333.30" x2="409.30" y2="330.90" stroke-width="0.8"/>
<line x1="409.30" y1="263.00" x2="409.30" y2="265.40" stroke-width="0.8"/>
<line x1="412.16" y1="333.30" x2="412.16" y2="331.90" stroke-width="0.8"/>
<line x1="412.16" y1="263.00" x2="412.16" y2="264.40" stroke-width="0.8"/>
<line x1="415.03" y1="333.30" x2="415.03" y2="331.90" stroke-width="0.8"/>
<line x1="415.03" y1="263.00" x2="415.03" y2="264.40" stroke-width="0.8"/>
<line x1="417.89" y1="333.30" x2="417.89" y2="331.90" stroke-width="0.8"/>
<line x1="417.89" y1="263.00" x2="417.89" y2="264.40" stroke-width="0.8"/>
<line x1="420.76" y1="333.30" x2="420.76" y2="330.90" stroke-width="0.8"/>
<line x1="420.76" y1="263.00" x2="420.76" y2="265.40" stroke-width="0.8"/>
<line x1="423.62" y1="333.30" x2="423.62" y2="331.90" stroke-width="0.8"/>
<line x1="423.62" y1="263.00" x2="423.62" y2="264.40" stroke-width="0.8"/>
<line x1="426.49" y1="333.30" x2="426.49" y2="331.90" stroke-width="0.8"/>
<line x1="426.49" y1="263.00" x2="426.49" y2="264.40" stroke-width="0.8"/>
<line x1="429.35" y1="333.30" x2="429.35" y2="331.90" stroke-width="0.8"/>
<line x1="429.35" y1="263.00" x2="429.35" y2="264.40" stroke-width="0.8"/>
<line x1="432.21" y1="333.30" x2="432.21" y2="330.90" stroke-width="0.8"/>
<line x1="432.21" y1="263.00" x2="432.21" y2="265.40" stroke-width="0.8"/>
<line x1="435.08" y1="333.30" x2="435.08" y2="331.90" stroke-width="0.8"/>
<line x1="435.08" y1="263.00" x2="435.08" y2="264.40" stroke-width="0.8"/>
<line x1="437.94" y1="333.30" x2="437.94" y2="331.90" stroke-width="0.8"/>
<line x1="437.94" y1="263.00" x2="437.94" y2="264.40" stroke-width="0.8"/>
<line x1="440.81" y1="333.30" x2="440.81" y2="331.90" stroke-width="0.8"/>
<line x1="440.81" y1="263.00" x2="440.81" y2="264.40" stroke-width="0.8"/>
<line x1="443.67" y1="333.30" x2="443.67" y2="330.90" stroke-width="0.8"/>
<line x1="443.67" y1="263.00" x2="443.67" y2="265.40" stroke-width="0.8"/>
<line x1="446.54" y1="333.30" x2="446.54" y2="331.90" stroke-width="0.8"/>
<line x1="446.54" y1="263.00" x2="446.54" y2="264.40" stroke-width="0.8"/>
<line x1="449.40" y1="333.30" x2="449.40" y2="331.90" stroke-width="0.8"/>
<line x1="449.40" y1="263.00" x2="449.40" y2="264.40" stroke-width="0.8"/>
<line x1="452.26" y1="333.30" x2="452.26" y2="331.90" stroke-width="0.8"/>
<line x1="452.26" y1="263.00" x2="452.26" y2="264.40" stroke-width="0.8"/>
<line x1="455.13" y1="333.30" x2="455.13" y2="330.90" stroke-width="0.8"/>
<line x1="455.13" y1="263.00" x2="455.13" y2="265.40" stroke-width="0.8"/>
<line x1="457.99" y1="333.30" x2="457.99" y2="331.90" stroke-width="0.8"/>
<line x1="457.99" y1="263.00" x2="457.99" y2="264.40" stroke-width="0.8"/>
<line x1="460.86" y1="333.30" x2="460.86" y2="331.90" stroke-width="0.8"/>
<line x1="460.86" y1="263.00" x2="460.86" y2="264.40" stroke-width="0.8"/>
<line x1="463.72" y1="333.30" x2="463.72" y2="331.90" stroke-width="0.8"/>
<line x1="463.72" y1="263.00" x2="463.72" y2="264.40" stroke-width="0.8"/>
<line x1="466.59" y1="333.30" x2="466.59" y2="330.90" stroke-width="0.8"/>
<line x1="466.59" y1="263.00" x2="466.59" y2="265.40" stroke-width="0.8"/>
<line x1="469.45" y1="333.30" x2="469.45" y2="331.90" stroke-width="0.8"/>
<line x1="469.45" y1="263.00" x2="469.45" y2="264.40" stroke-width="0.8"/>
<line x1="472.31" y1="333.30" x2="472.31" y2="331.90" stroke-width="0.8"/>
<line x1="472.31" y1="263.00" x2="472.31" y2="264.40" stroke-width="0.8"/>
<line x1="475.18" y1="333.30" x2="475.18" y2="331.90" stroke-width="0.8"/>
<line x1="475.18" y1="263.00" x2="475.18" y2="264.40" stroke-width="0.8"/>
<line x1="478.04" y1="333.30" x2="478.04" y2="330.90" stroke-width="0.8"/>
<line x1="478.04" y1="263.00" x2="478.04" y2="265.40" stroke-width="0.8"/>
<line x1="480.91" y1="333.30" x2="480.91" y2="331.90" stroke-width="0.8"/>
<line x1="480.91" y1="263.00" x2="480.91" y2="264.40" stroke-width="0.8"/>
<line x1="483.77" y1="333.30" x2="483.77" y2="331.90" stroke-width="0.8"/>
<line x1="483.77" y1="263.00" x2="483.77" y2="264.40" stroke-width="0.8"/>
<line x1="486.64" y1="333.30" x2="486.64" y2="331.90" stroke-width="0.8"/>
<line x1="486.64" y1="263.00" x2="486.64" y2="264.40" stroke-width="0.8"/>
<line x1="489.50" y1="333.30" x2="489.50" y2="330.90" stroke-width="0.8"/>
<line x1="489.50" y1="263.00" x2="489.50" y2="265.40" stroke-width="0.8"/>
<text x="409.30" y="339.50" font-size="5.2" text-anchor="middle">0</text>
<text x="420.76" y="339.50" font-size="5.2" text-anchor="middle">10</text>
<text x="432.21" y="339.50" font-size="5.2" text-anchor="middle">20</text>
<text x="443.67" y="339.50" font-size="5.2" text-anchor="middle">30</text>
<text x="455.13" y="339.50" font-size="5.2" text-anchor="middle">40</text>
<text x="466.59" y="339.50" font-size="5.2" text-anchor="middle">50</text>
<text x="478.04" y="339.50" font-size="5.2" text-anchor="middle">60</text>
<text x="489.50" y="339.50" font-size="5.2" text-anchor="middle">70</text>
<text x="446.60" y="345.20" font-size="5.2" text-anchor="middle">Time, <tspan font-style="italic">t</tspan>&#160; (d)</text>
<line x1="409.30" y1="329.70" x2="410.70" y2="329.70" stroke-width="0.8"/>
<line x1="489.50" y1="329.70" x2="488.10" y2="329.70" stroke-width="0.8"/>
<line x1="409.30" y1="326.10" x2="410.70" y2="326.10" stroke-width="0.8"/>
<line x1="489.50" y1="326.10" x2="488.10" y2="326.10" stroke-width="0.8"/>
<line x1="409.30" y1="322.50" x2="410.70" y2="322.50" stroke-width="0.8"/>
<line x1="489.50" y1="322.50" x2="488.10" y2="322.50" stroke-width="0.8"/>
<line x1="409.30" y1="318.90" x2="411.70" y2="318.90" stroke-width="0.8"/>
<line x1="489.50" y1="318.90" x2="487.10" y2="318.90" stroke-width="0.8"/>
<line x1="409.30" y1="315.30" x2="410.70" y2="315.30" stroke-width="0.8"/>
<line x1="489.50" y1="315.30" x2="488.10" y2="315.30" stroke-width="0.8"/>
<line x1="409.30" y1="311.70" x2="410.70" y2="311.70" stroke-width="0.8"/>
<line x1="489.50" y1="311.70" x2="488.10" y2="311.70" stroke-width="0.8"/>
<line x1="409.30" y1="308.10" x2="410.70" y2="308.10" stroke-width="0.8"/>
<line x1="489.50" y1="308.10" x2="488.10" y2="308.10" stroke-width="0.8"/>
<line x1="409.30" y1="298.00" x2="410.70" y2="298.00" stroke-width="0.8"/>
<line x1="489.50" y1="298.00" x2="488.10" y2="298.00" stroke-width="0.8"/>
<line x1="409.30" y1="293.00" x2="411.70" y2="293.00" stroke-width="0.8"/>
<line x1="489.50" y1="293.00" x2="487.10" y2="293.00" stroke-width="0.8"/>
<line x1="409.30" y1="288.00" x2="410.70" y2="288.00" stroke-width="0.8"/>
<line x1="489.50" y1="288.00" x2="488.10" y2="288.00" stroke-width="0.8"/>
<line x1="409.30" y1="283.00" x2="411.70" y2="283.00" stroke-width="0.8"/>
<line x1="489.50" y1="283.00" x2="487.10" y2="283.00" stroke-width="0.8"/>
<line x1="409.30" y1="278.00" x2="410.70" y2="278.00" stroke-width="0.8"/>
<line x1="489.50" y1="278.00" x2="488.10" y2="278.00" stroke-width="0.8"/>
<line x1="409.30" y1="273.00" x2="411.70" y2="273.00" stroke-width="0.8"/>
<line x1="489.50" y1="273.00" x2="487.10" y2="273.00" stroke-width="0.8"/>
<line x1="409.30" y1="268.00" x2="410.70" y2="268.00" stroke-width="0.8"/>
<line x1="489.50" y1="268.00" x2="488.10" y2="268.00" stroke-width="0.8"/>
<text x="407.20" y="264.80" font-size="5.2" text-anchor="end">1000</text>
<text x="407.20" y="274.80" font-size="5.2" text-anchor="end">800</text>
<text x="407.20" y="284.80" font-size="5.2" text-anchor="end">600</text>
<text x="407.20" y="294.80" font-size="5.2" text-anchor="end">400</text>
<text x="407.20" y="306.10" font-size="5.2" text-anchor="end">200</text>
<text x="407.20" y="320.70" font-size="5.2" text-anchor="end">100</text>
<text x="407.20" y="335.10" font-size="5.2" text-anchor="end">0</text>
<path d="M407.50 300.9 L411.70 302.8 L411.70 305.0 L407.50 303.1 Z" fill="#fff" stroke="none"/>
<line x1="407.30" y1="300.40" x2="411.70" y2="302.40" stroke-width="0.85"/>
<line x1="407.30" y1="303.30" x2="411.70" y2="305.30" stroke-width="0.85"/>
<path d="M487.70 300.9 L491.90 302.8 L491.90 305.0 L487.70 303.1 Z" fill="#fff" stroke="none"/>
<line x1="487.50" y1="300.40" x2="491.90" y2="302.40" stroke-width="0.85"/>
<line x1="487.50" y1="303.30" x2="491.90" y2="305.30" stroke-width="0.85"/>
<text x="394.40" y="298.20" font-size="5.2" text-anchor="middle" transform="rotate(-90 394.4 298.2)">Circulating EPCs (cells/mm<tspan font-size="3.6" dy="-2">3</tspan><tspan dy="2">)</tspan></text>
<line x1="416.17" y1="283.00" x2="416.17" y2="290.50" stroke-width="0.9"/>
<path d="M414.62 289.3 L416.17 295.0 L417.72 289.3 Z" stroke="none" fill="#111"/>
<line x1="423.05" y1="283.00" x2="423.05" y2="290.50" stroke-width="0.9"/>
<path d="M421.50 289.3 L423.05 295.0 L424.60 289.3 Z" stroke="none" fill="#111"/>
<line x1="429.92" y1="283.00" x2="429.92" y2="290.50" stroke-width="0.9"/>
<path d="M428.37 289.3 L429.92 295.0 L431.47 289.3 Z" stroke="none" fill="#111"/>
<line x1="436.80" y1="283.00" x2="436.80" y2="290.50" stroke-width="0.9"/>
<path d="M435.25 289.3 L436.80 295.0 L438.35 289.3 Z" stroke="none" fill="#111"/>
<line x1="443.67" y1="283.00" x2="443.67" y2="290.50" stroke-width="0.9"/>
<path d="M442.12 289.3 L443.67 295.0 L445.22 289.3 Z" stroke="none" fill="#111"/>
<line x1="450.55" y1="283.00" x2="450.55" y2="290.50" stroke-width="0.9"/>
<path d="M449.00 289.3 L450.55 295.0 L452.10 289.3 Z" stroke="none" fill="#111"/>
<line x1="457.42" y1="283.00" x2="457.42" y2="290.50" stroke-width="0.9"/>
<path d="M455.87 289.3 L457.42 295.0 L458.97 289.3 Z" stroke="none" fill="#111"/>
<line x1="464.29" y1="283.00" x2="464.29" y2="290.50" stroke-width="0.9"/>
<path d="M462.74 289.3 L464.29 295.0 L465.84 289.3 Z" stroke="none" fill="#111"/>
<line x1="471.17" y1="283.00" x2="471.17" y2="290.50" stroke-width="0.9"/>
<path d="M469.62 289.3 L471.17 295.0 L472.72 289.3 Z" stroke="none" fill="#111"/>
<line x1="478.04" y1="283.00" x2="478.04" y2="290.50" stroke-width="0.9"/>
<path d="M476.49 289.3 L478.04 295.0 L479.59 289.3 Z" stroke="none" fill="#111"/>
<path d="M415.50 333.50 L415.74 333.48 L415.97 333.48 L416.21 333.48 L416.44 333.47 L416.68 333.46 L416.92 333.44 L417.15 333.39 L417.39 333.31 L417.62 333.21 L417.86 333.11 L418.09 333.02 L418.33 332.93 L418.57 332.83 L418.80 332.74 L419.04 332.65 L419.27 332.55 L419.51 332.46 L419.75 332.36 L419.98 332.25 L420.22 332.14 L420.45 332.03 L420.69 331.91 L420.92 331.79 L421.16 331.65 L421.40 331.52 L421.63 331.37 L421.87 331.21 L422.10 331.04 L422.34 330.87 L422.57 330.68 L422.81 330.48 L423.05 330.27 L423.28 330.05 L423.52 329.82 L423.75 329.58 L423.99 329.34 L424.23 329.08 L424.46 328.82 L424.70 328.54 L424.93 328.26 L425.17 327.96 L425.41 327.66 L425.64 327.34 L425.88 327.01 L426.11 326.67 L426.35 326.31 L426.58 325.94 L426.82 325.56 L427.06 325.17 L427.29 324.76 L427.53 324.33 L427.76 323.89 L428.00 323.42 L428.24 322.93 L428.47 322.41 L428.71 321.87 L428.94 321.31 L429.18 320.73 L429.41 320.13 L429.65 319.51 L429.89 318.88 L430.12 318.24 L430.36 317.59 L430.59 316.92 L430.83 316.25 L431.06 315.58 L431.30 314.90 L431.54 314.19 L431.77 313.45 L432.01 312.67 L432.24 311.86 L432.48 311.03 L432.72 310.19 L432.95 309.35 L433.19 308.50 L433.42 307.67 L433.66 306.85 L433.89 306.05 L434.13 305.28 L434.37 304.55 L434.60 303.84 L434.84 303.16 L435.07 302.47 L435.31 301.77 L435.55 301.07 L435.78 300.37 L436.02 299.67 L436.25 298.98 L436.49 298.28 L436.73 297.58 L436.96 296.88 L437.20 296.16 L437.43 295.44 L437.67 294.70 L437.90 293.95 L438.14 293.19 L438.38 292.43 L438.61 291.67 L438.85 290.90 L439.08 290.12 L439.32 289.33 L439.56 288.54 L439.79 287.74 L440.03 286.94 L440.26 286.13 L440.50 285.31 L440.73 284.48 L440.97 283.64 L441.21 282.80 L441.44 281.95 L441.68 281.09 L441.91 280.23 L442.15 279.36 L442.38 278.50 L442.62 277.63 L442.86 276.76 L443.09 275.89 L443.33 275.02 L443.56 274.16 L443.80 273.30" fill="none" stroke-width="0.9"/>
<path d="M432.6 301.4 L437.6 303.4 L437.2 304.4 L432.2 302.4 Z" fill="#fff" stroke="none"/>
<line x1="432.80" y1="300.60" x2="437.90" y2="302.60" stroke-width="0.85"/>
<line x1="432.20" y1="303.00" x2="437.30" y2="305.00" stroke-width="0.85"/>
<path d="M436.80 333.34 L437.08 333.33 L437.37 333.32 L437.66 333.31 L437.94 333.30 L438.23 333.28 L438.52 333.27 L438.80 333.26 L439.09 333.24 L439.38 333.23 L439.66 333.21 L439.95 333.19 L440.23 333.17 L440.52 333.15 L440.81 333.13 L441.09 333.11 L441.38 333.09 L441.67 333.06 L441.95 333.04 L442.24 333.02 L442.53 332.99 L442.81 332.96 L443.10 332.94 L443.38 332.91 L443.67 332.88 L443.96 332.85 L444.24 332.81 L444.53 332.78 L444.82 332.75 L445.10 332.71 L445.39 332.68 L445.68 332.64 L445.96 332.60 L446.25 332.56 L446.54 332.52 L446.82 332.48 L447.11 332.44 L447.39 332.40 L447.68 332.36 L447.97 332.31 L448.25 332.26 L448.54 332.22 L448.83 332.17 L449.11 332.12 L449.40 332.07 L449.69 332.02 L449.97 331.96 L450.26 331.91 L450.55 331.86 L450.83 331.80 L451.12 331.74 L451.41 331.68 L451.69 331.62 L451.98 331.56 L452.26 331.50 L452.55 331.44 L452.84 331.37 L453.12 331.31 L453.41 331.24 L453.70 331.17 L453.98 331.10 L454.27 331.03 L454.56 330.96 L454.84 330.89 L455.13 330.81 L455.42 330.74 L455.70 330.66 L455.99 330.58 L456.27 330.50 L456.56 330.42 L456.85 330.34 L457.13 330.25 L457.42 330.17 L457.71 330.08 L457.99 330.00 L458.28 329.91 L458.57 329.82 L458.85 329.73 L459.14 329.63 L459.43 329.54 L459.71 329.44 L460.00 329.35 L460.28 329.25 L460.57 329.15 L460.86 329.05 L461.14 328.94 L461.43 328.84 L461.72 328.73 L462.00 328.63 L462.29 328.52 L462.58 328.41 L462.86 328.29 L463.15 328.18 L463.44 328.07 L463.72 327.95 L464.01 327.83 L464.29 327.71 L464.58 327.59 L464.87 327.47 L465.15 327.35 L465.44 327.22 L465.73 327.10 L466.01 326.97 L466.30 326.84 L466.59 326.71 L466.87 326.57 L467.16 326.44 L467.44 326.30 L467.73 326.17 L468.02 326.03 L468.30 325.89 L468.59 325.74 L468.88 325.60 L469.16 325.45 L469.45 325.30 L469.74 325.16 L470.02 325.00 L470.31 324.85 L470.60 324.70 L470.88 324.54 L471.17 324.38 L471.45 324.22 L471.74 324.06 L472.03 323.90 L472.31 323.74 L472.60 323.57 L472.89 323.40 L473.17 323.23 L473.46 323.06 L473.75 322.89 L474.03 322.71 L474.32 322.54 L474.61 322.36 L474.89 322.18 L475.18 321.99 L475.47 321.81 L475.75 321.62 L476.04 321.44 L476.32 321.25 L476.61 321.06 L476.90 320.86 L477.18 320.67 L477.47 320.47" fill="none" stroke-width="1.1" stroke-dasharray="2.6 1.4"/>
</g>
</svg>
</body></html>
